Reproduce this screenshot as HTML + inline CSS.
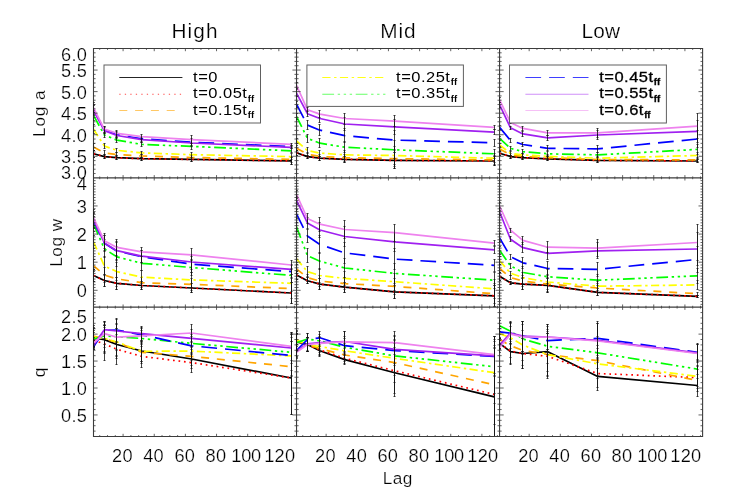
<!DOCTYPE html>
<html><head><meta charset="utf-8"><title>Lag plots</title>
<style>html,body{margin:0;padding:0;background:#fff;}svg{display:block;will-change:transform;}body{font-family:"Liberation Sans",sans-serif;}</style></head>
<body>
<svg width="747" height="499" viewBox="0 0 747 499">
<rect x="0" y="0" width="747" height="499" fill="#ffffff"/>
<defs>
<clipPath id="c00"><rect x="93.50" y="48.50" width="203.03" height="129.33"/></clipPath>
<clipPath id="c01"><rect x="296.53" y="48.50" width="203.03" height="129.33"/></clipPath>
<clipPath id="c02"><rect x="499.57" y="48.50" width="203.03" height="129.33"/></clipPath>
<clipPath id="c10"><rect x="93.50" y="177.83" width="203.03" height="129.33"/></clipPath>
<clipPath id="c11"><rect x="296.53" y="177.83" width="203.03" height="129.33"/></clipPath>
<clipPath id="c12"><rect x="499.57" y="177.83" width="203.03" height="129.33"/></clipPath>
<clipPath id="c20"><rect x="93.50" y="307.17" width="203.03" height="129.33"/></clipPath>
<clipPath id="c21"><rect x="296.53" y="307.17" width="203.03" height="129.33"/></clipPath>
<clipPath id="c22"><rect x="499.57" y="307.17" width="203.03" height="129.33"/></clipPath>
</defs>
<g clip-path="url(#c00)" fill="none">
<polyline points="93.5,153.7 104.4,156.6 116.9,157.7 141.8,158.7 191.6,159.4 291.3,160.9" stroke="#000000" stroke-width="1.7" stroke-linejoin="round"/>
<path d="M93.5 150.5V157.5M92.5 150.5h2M92.5 157.5h2M104.5 154.5V158.5M103.5 154.5h2M103.5 158.5h2M116.5 155.5V159.5M115.5 155.5h2M115.5 159.5h2M141.5 157.5V160.5M140.5 157.5h2M140.5 160.5h2M191.5 157.5V161.5M190.5 157.5h2M190.5 161.5h2M291.5 157.5V164.5M290.5 157.5h2M290.5 164.5h2" stroke="#111" stroke-width="0.8"/>
<polyline points="93.5,153.7 104.4,156.6 116.9,157.7 141.8,158.7 191.6,159.4 291.3,160.9" stroke="#ff0000" stroke-width="1.7" stroke-linejoin="round" stroke-dasharray="1.7 3.8"/>
<path d="M93.5 150.5V157.5M92.5 150.5h2M92.5 157.5h2M104.5 154.5V158.5M103.5 154.5h2M103.5 158.5h2M116.5 155.5V159.5M115.5 155.5h2M115.5 159.5h2M141.5 157.5V160.5M140.5 157.5h2M140.5 160.5h2M191.5 157.5V161.5M190.5 157.5h2M190.5 161.5h2M291.5 157.5V164.5M290.5 157.5h2M290.5 164.5h2" stroke="#111" stroke-width="0.8"/>
<polyline points="93.5,146.9 104.4,152.9 116.9,154.6 141.8,156.0 191.6,157.5 291.3,159.4" stroke="#ffa500" stroke-width="1.7" stroke-linejoin="round" stroke-dasharray="8 7.8"/>
<path d="M93.5 143.5V150.5M92.5 143.5h2M92.5 150.5h2M104.5 150.5V155.5M103.5 150.5h2M103.5 155.5h2M116.5 152.5V156.5M115.5 152.5h2M115.5 156.5h2M141.5 154.5V157.5M140.5 154.5h2M140.5 157.5h2M191.5 155.5V159.5M190.5 155.5h2M190.5 159.5h2M291.5 156.5V162.5M290.5 156.5h2M290.5 162.5h2" stroke="#111" stroke-width="0.8"/>
<polyline points="93.5,129.1 104.4,146.1 116.9,150.3 141.8,152.9 191.6,154.7 291.3,156.6" stroke="#ffff00" stroke-width="1.7" stroke-linejoin="round" stroke-dasharray="8.2 3.6 2.4 3.4"/>
<path d="M93.5 124.5V133.5M92.5 124.5h2M92.5 133.5h2M104.5 143.5V148.5M103.5 143.5h2M103.5 148.5h2M116.5 148.5V152.5M115.5 148.5h2M115.5 152.5h2M141.5 151.5V154.5M140.5 151.5h2M140.5 154.5h2M191.5 152.5V157.5M190.5 152.5h2M190.5 157.5h2M291.5 153.5V159.5M290.5 153.5h2M290.5 159.5h2" stroke="#111" stroke-width="0.8"/>
<polyline points="93.5,115.4 104.4,135.0 116.9,140.1 141.8,144.4 191.6,146.4 291.3,150.8" stroke="#00ff00" stroke-width="1.7" stroke-linejoin="round" stroke-dasharray="11.8 3.6 2.4 3.6 2.4 3.6 2.4 3.6"/>
<path d="M93.5 110.5V120.5M92.5 110.5h2M92.5 120.5h2M104.5 132.5V137.5M103.5 132.5h2M103.5 137.5h2M116.5 137.5V142.5M115.5 137.5h2M115.5 142.5h2M141.5 142.5V146.5M140.5 142.5h2M140.5 146.5h2M191.5 143.5V149.5M190.5 143.5h2M190.5 149.5h2M291.5 148.5V152.5M290.5 148.5h2M290.5 152.5h2" stroke="#111" stroke-width="0.8"/>
<polyline points="93.5,109.6 104.4,130.0 116.9,134.7 141.8,138.8 191.6,142.2 291.3,146.6" stroke="#0000ff" stroke-width="1.7" stroke-linejoin="round" stroke-dasharray="15.7 8"/>
<path d="M93.5 104.5V114.5M92.5 104.5h2M92.5 114.5h2M104.5 126.5V133.5M103.5 126.5h2M103.5 133.5h2M116.5 131.5V137.5M115.5 131.5h2M115.5 137.5h2M141.5 136.5V141.5M140.5 136.5h2M140.5 141.5h2M191.5 138.5V145.5M190.5 138.5h2M190.5 145.5h2M291.5 145.5V147.5M290.5 145.5h2M290.5 147.5h2" stroke="#111" stroke-width="0.8"/>
<polyline points="93.5,110.3 104.4,130.8 116.9,135.5 141.8,139.6 191.6,143.0 291.3,147.4" stroke="#a020f0" stroke-width="1.7" stroke-linejoin="round"/>
<path d="M93.5 105.5V115.5M92.5 105.5h2M92.5 115.5h2M104.5 127.5V133.5M103.5 127.5h2M103.5 133.5h2M116.5 132.5V138.5M115.5 132.5h2M115.5 138.5h2M141.5 137.5V142.5M140.5 137.5h2M140.5 142.5h2M191.5 139.5V146.5M190.5 139.5h2M190.5 146.5h2M291.5 146.5V148.5M290.5 146.5h2M290.5 148.5h2" stroke="#111" stroke-width="0.8"/>
<polyline points="93.5,107.8 104.4,129.1 116.9,133.3 141.8,136.7 191.6,139.6 291.3,144.4" stroke="#ee82ee" stroke-width="1.7" stroke-linejoin="round"/>
<path d="M93.5 102.5V112.5M92.5 102.5h2M92.5 112.5h2M104.5 126.5V132.5M103.5 126.5h2M103.5 132.5h2M116.5 130.5V136.5M115.5 130.5h2M115.5 136.5h2M141.5 134.5V139.5M140.5 134.5h2M140.5 139.5h2M191.5 135.5V143.5M190.5 135.5h2M190.5 143.5h2M291.5 143.5V145.5M290.5 143.5h2M290.5 145.5h2" stroke="#111" stroke-width="0.8"/>
</g>
<g clip-path="url(#c01)" fill="none">
<polyline points="296.5,152.7 307.4,156.6 319.9,158.2 344.8,159.3 394.7,160.4 494.3,161.0" stroke="#000000" stroke-width="1.7" stroke-linejoin="round"/>
<path d="M296.5 150.5V155.5M295.5 150.5h2M295.5 155.5h2M307.5 155.5V158.5M306.5 155.5h2M306.5 158.5h2M319.5 156.5V160.5M318.5 156.5h2M318.5 160.5h2M344.5 156.5V162.5M343.5 156.5h2M343.5 162.5h2M394.5 152.5V168.5M393.5 152.5h2M393.5 168.5h2M494.5 156.5V165.5M493.5 156.5h2M493.5 165.5h2" stroke="#111" stroke-width="0.8"/>
<polyline points="296.5,152.7 307.4,156.6 319.9,158.2 344.8,159.3 394.7,160.4 494.3,161.0" stroke="#ff0000" stroke-width="1.7" stroke-linejoin="round" stroke-dasharray="1.7 3.8"/>
<path d="M296.5 150.5V155.5M295.5 150.5h2M295.5 155.5h2M307.5 155.5V158.5M306.5 155.5h2M306.5 158.5h2M319.5 156.5V160.5M318.5 156.5h2M318.5 160.5h2M344.5 156.5V162.5M343.5 156.5h2M343.5 162.5h2M394.5 152.5V168.5M393.5 152.5h2M393.5 168.5h2M494.5 156.5V165.5M493.5 156.5h2M493.5 165.5h2" stroke="#111" stroke-width="0.8"/>
<polyline points="296.5,148.3 307.4,154.2 319.9,156.4 344.8,157.7 394.7,158.6 494.3,159.9" stroke="#ffa500" stroke-width="1.7" stroke-linejoin="round" stroke-dasharray="8 7.8"/>
<path d="M296.5 145.5V150.5M295.5 145.5h2M295.5 150.5h2M307.5 152.5V156.5M306.5 152.5h2M306.5 156.5h2M319.5 154.5V158.5M318.5 154.5h2M318.5 158.5h2M344.5 154.5V161.5M343.5 154.5h2M343.5 161.5h2M394.5 150.5V166.5M393.5 150.5h2M393.5 166.5h2M494.5 155.5V164.5M493.5 155.5h2M493.5 164.5h2" stroke="#111" stroke-width="0.8"/>
<polyline points="296.5,141.0 307.4,150.5 319.9,153.1 344.8,154.9 394.7,155.5 494.3,158.2" stroke="#ffff00" stroke-width="1.7" stroke-linejoin="round" stroke-dasharray="8.2 3.6 2.4 3.4"/>
<path d="M296.5 138.5V143.5M295.5 138.5h2M295.5 143.5h2M307.5 147.5V153.5M306.5 147.5h2M306.5 153.5h2M319.5 150.5V156.5M318.5 150.5h2M318.5 156.5h2M344.5 150.5V159.5M343.5 150.5h2M343.5 159.5h2M394.5 146.5V164.5M393.5 146.5h2M393.5 164.5h2M494.5 153.5V162.5M493.5 153.5h2M493.5 162.5h2" stroke="#111" stroke-width="0.8"/>
<polyline points="296.5,116.3 307.4,138.3 319.9,143.2 344.8,147.2 394.7,149.8 494.3,153.8" stroke="#00ff00" stroke-width="1.7" stroke-linejoin="round" stroke-dasharray="11.8 3.6 2.4 3.6 2.4 3.6 2.4 3.6"/>
<path d="M296.5 113.5V119.5M295.5 113.5h2M295.5 119.5h2M307.5 134.5V142.5M306.5 134.5h2M306.5 142.5h2M319.5 138.5V147.5M318.5 138.5h2M318.5 147.5h2M344.5 141.5V152.5M343.5 141.5h2M343.5 152.5h2M394.5 140.5V158.5M393.5 140.5h2M393.5 158.5h2M494.5 149.5V158.5M493.5 149.5h2M493.5 158.5h2" stroke="#111" stroke-width="0.8"/>
<polyline points="296.5,104.2 307.4,125.1 319.9,130.2 344.8,135.7 394.7,140.1 494.3,142.8" stroke="#0000ff" stroke-width="1.7" stroke-linejoin="round" stroke-dasharray="15.7 8"/>
<path d="M296.5 101.5V107.5M295.5 101.5h2M295.5 107.5h2M307.5 120.5V129.5M306.5 120.5h2M306.5 129.5h2M319.5 124.5V135.5M318.5 124.5h2M318.5 135.5h2M344.5 128.5V142.5M343.5 128.5h2M343.5 142.5h2M394.5 130.5V149.5M393.5 130.5h2M393.5 149.5h2M494.5 139.5V146.5M493.5 139.5h2M493.5 146.5h2" stroke="#111" stroke-width="0.8"/>
<polyline points="296.5,93.1 307.4,113.7 319.9,118.5 344.8,124.0 394.7,126.9 494.3,132.2" stroke="#a020f0" stroke-width="1.7" stroke-linejoin="round"/>
<path d="M296.5 89.5V96.5M295.5 89.5h2M295.5 96.5h2M307.5 110.5V116.5M306.5 110.5h2M306.5 116.5h2M319.5 114.5V122.5M318.5 114.5h2M318.5 122.5h2M344.5 117.5V130.5M343.5 117.5h2M343.5 130.5h2M394.5 119.5V134.5M393.5 119.5h2M393.5 134.5h2M494.5 129.5V134.5M493.5 129.5h2M493.5 134.5h2" stroke="#111" stroke-width="0.8"/>
<polyline points="296.5,85.4 307.4,109.7 319.9,114.1 344.8,118.5 394.7,121.1 494.3,127.3" stroke="#ee82ee" stroke-width="1.7" stroke-linejoin="round"/>
<path d="M296.5 82.5V88.5M295.5 82.5h2M295.5 88.5h2M307.5 107.5V111.5M306.5 107.5h2M306.5 111.5h2M319.5 110.5V117.5M318.5 110.5h2M318.5 117.5h2M344.5 113.5V124.5M343.5 113.5h2M343.5 124.5h2M394.5 115.5V126.5M393.5 115.5h2M393.5 126.5h2M494.5 125.5V129.5M493.5 125.5h2M493.5 129.5h2" stroke="#111" stroke-width="0.8"/>
</g>
<g clip-path="url(#c02)" fill="none">
<polyline points="499.6,153.3 510.5,156.6 522.9,157.7 547.8,158.8 597.7,160.4 697.4,161.0" stroke="#000000" stroke-width="1.7" stroke-linejoin="round"/>
<path d="M499.5 151.5V155.5M498.5 151.5h2M498.5 155.5h2M510.5 155.5V158.5M509.5 155.5h2M509.5 158.5h2M522.5 156.5V159.5M521.5 156.5h2M521.5 159.5h2M547.5 156.5V160.5M546.5 156.5h2M546.5 160.5h2M597.5 158.5V162.5M596.5 158.5h2M596.5 162.5h2M697.5 159.5V162.5M696.5 159.5h2M696.5 162.5h2" stroke="#111" stroke-width="0.8"/>
<polyline points="499.6,153.3 510.5,156.6 522.9,157.7 547.8,158.8 597.7,160.4 697.4,161.0" stroke="#ff0000" stroke-width="1.7" stroke-linejoin="round" stroke-dasharray="1.7 3.8"/>
<path d="M499.5 151.5V155.5M498.5 151.5h2M498.5 155.5h2M510.5 155.5V158.5M509.5 155.5h2M509.5 158.5h2M522.5 156.5V159.5M521.5 156.5h2M521.5 159.5h2M547.5 156.5V160.5M546.5 156.5h2M546.5 160.5h2M597.5 158.5V162.5M596.5 158.5h2M596.5 162.5h2M697.5 159.5V162.5M696.5 159.5h2M696.5 162.5h2" stroke="#111" stroke-width="0.8"/>
<polyline points="499.6,148.9 510.5,154.9 522.9,156.4 547.8,157.7 597.7,159.5 697.4,159.9" stroke="#ffa500" stroke-width="1.7" stroke-linejoin="round" stroke-dasharray="8 7.8"/>
<path d="M499.5 147.5V150.5M498.5 147.5h2M498.5 150.5h2M510.5 153.5V156.5M509.5 153.5h2M509.5 156.5h2M522.5 154.5V158.5M521.5 154.5h2M521.5 158.5h2M547.5 155.5V159.5M546.5 155.5h2M546.5 159.5h2M597.5 157.5V161.5M596.5 157.5h2M596.5 161.5h2M697.5 157.5V161.5M696.5 157.5h2M696.5 161.5h2" stroke="#111" stroke-width="0.8"/>
<polyline points="499.6,145.0 510.5,153.3 522.9,154.9 547.8,156.4 597.7,158.2 697.4,155.5" stroke="#ffff00" stroke-width="1.7" stroke-linejoin="round" stroke-dasharray="8.2 3.6 2.4 3.4"/>
<path d="M499.5 143.5V146.5M498.5 143.5h2M498.5 146.5h2M510.5 151.5V155.5M509.5 151.5h2M509.5 155.5h2M522.5 153.5V156.5M521.5 153.5h2M521.5 156.5h2M547.5 154.5V158.5M546.5 154.5h2M546.5 158.5h2M597.5 156.5V160.5M596.5 156.5h2M596.5 160.5h2M697.5 152.5V158.5M696.5 152.5h2M696.5 158.5h2" stroke="#111" stroke-width="0.8"/>
<polyline points="499.6,138.3 510.5,148.3 522.9,151.6 547.8,153.8 597.7,154.9 697.4,149.4" stroke="#00ff00" stroke-width="1.7" stroke-linejoin="round" stroke-dasharray="11.8 3.6 2.4 3.6 2.4 3.6 2.4 3.6"/>
<path d="M499.5 136.5V140.5M498.5 136.5h2M498.5 140.5h2M510.5 146.5V150.5M509.5 146.5h2M509.5 150.5h2M522.5 149.5V153.5M521.5 149.5h2M521.5 153.5h2M547.5 151.5V156.5M546.5 151.5h2M546.5 156.5h2M597.5 152.5V157.5M596.5 152.5h2M596.5 157.5h2M697.5 144.5V154.5M696.5 144.5h2M696.5 154.5h2" stroke="#111" stroke-width="0.8"/>
<polyline points="499.6,127.3 510.5,140.5 522.9,144.5 547.8,148.3 597.7,148.9 697.4,139.0" stroke="#0000ff" stroke-width="1.7" stroke-linejoin="round" stroke-dasharray="15.7 8"/>
<path d="M499.5 125.5V129.5M498.5 125.5h2M498.5 129.5h2M510.5 138.5V142.5M509.5 138.5h2M509.5 142.5h2M522.5 142.5V146.5M521.5 142.5h2M521.5 146.5h2M547.5 145.5V150.5M546.5 145.5h2M546.5 150.5h2M597.5 145.5V152.5M596.5 145.5h2M596.5 152.5h2M697.5 130.5V147.5M696.5 130.5h2M696.5 147.5h2" stroke="#111" stroke-width="0.8"/>
<polyline points="499.6,104.8 510.5,127.8 522.9,133.9 547.8,137.9 597.7,135.0 697.4,131.3" stroke="#a020f0" stroke-width="1.7" stroke-linejoin="round"/>
<path d="M499.5 102.5V107.5M498.5 102.5h2M498.5 107.5h2M510.5 126.5V129.5M509.5 126.5h2M509.5 129.5h2M522.5 131.5V136.5M521.5 131.5h2M521.5 136.5h2M547.5 135.5V140.5M546.5 135.5h2M546.5 140.5h2M597.5 130.5V139.5M596.5 130.5h2M596.5 139.5h2M697.5 120.5V142.5M696.5 120.5h2M696.5 142.5h2" stroke="#111" stroke-width="0.8"/>
<polyline points="499.6,99.8 510.5,122.5 522.9,128.4 547.8,132.8 597.7,132.8 697.4,126.2" stroke="#ee82ee" stroke-width="1.7" stroke-linejoin="round"/>
<path d="M499.5 97.5V102.5M498.5 97.5h2M498.5 102.5h2M510.5 121.5V123.5M509.5 121.5h2M509.5 123.5h2M522.5 126.5V130.5M521.5 126.5h2M521.5 130.5h2M547.5 130.5V135.5M546.5 130.5h2M546.5 135.5h2M597.5 128.5V137.5M596.5 128.5h2M596.5 137.5h2M697.5 113.5V138.5M696.5 113.5h2M696.5 138.5h2" stroke="#111" stroke-width="0.8"/>
</g>
<g clip-path="url(#c10)" fill="none">
<polyline points="93.5,275.4 104.4,280.5 116.9,283.3 141.8,285.5 191.6,288.0 291.3,293.0" stroke="#000000" stroke-width="1.7" stroke-linejoin="round"/>
<path d="M93.5 269.5V281.5M92.5 269.5h2M92.5 281.5h2M104.5 274.5V286.5M103.5 274.5h2M103.5 286.5h2M116.5 277.5V289.5M115.5 277.5h2M115.5 289.5h2M141.5 281.5V289.5M140.5 281.5h2M140.5 289.5h2M191.5 283.5V292.5M190.5 283.5h2M190.5 292.5h2M291.5 282.5V303.5M290.5 282.5h2M290.5 303.5h2" stroke="#111" stroke-width="0.8"/>
<polyline points="93.5,275.4 104.4,280.5 116.9,283.3 141.8,285.5 191.6,288.0 291.3,293.0" stroke="#ff0000" stroke-width="1.7" stroke-linejoin="round" stroke-dasharray="1.7 3.8"/>
<path d="M93.5 269.5V281.5M92.5 269.5h2M92.5 281.5h2M104.5 274.5V286.5M103.5 274.5h2M103.5 286.5h2M116.5 277.5V289.5M115.5 277.5h2M115.5 289.5h2M141.5 281.5V289.5M140.5 281.5h2M140.5 289.5h2M191.5 283.5V292.5M190.5 283.5h2M190.5 292.5h2M291.5 282.5V303.5M290.5 282.5h2M290.5 303.5h2" stroke="#111" stroke-width="0.8"/>
<polyline points="93.5,265.7 104.4,275.0 116.9,278.9 141.8,282.7 191.6,284.3 291.3,288.6" stroke="#ffa500" stroke-width="1.7" stroke-linejoin="round" stroke-dasharray="8 7.8"/>
<path d="M93.5 259.5V271.5M92.5 259.5h2M92.5 271.5h2M104.5 267.5V282.5M103.5 267.5h2M103.5 282.5h2M116.5 271.5V286.5M115.5 271.5h2M115.5 286.5h2M141.5 277.5V287.5M140.5 277.5h2M140.5 287.5h2M191.5 278.5V290.5M190.5 278.5h2M190.5 290.5h2M291.5 278.5V298.5M290.5 278.5h2M290.5 298.5h2" stroke="#111" stroke-width="0.8"/>
<polyline points="93.5,241.9 104.4,266.1 116.9,271.6 141.8,277.2 191.6,279.9 291.3,283.3" stroke="#ffff00" stroke-width="1.7" stroke-linejoin="round" stroke-dasharray="8.2 3.6 2.4 3.4"/>
<path d="M93.5 235.5V248.5M92.5 235.5h2M92.5 248.5h2M104.5 256.5V275.5M103.5 256.5h2M103.5 275.5h2M116.5 262.5V280.5M115.5 262.5h2M115.5 280.5h2M141.5 270.5V283.5M140.5 270.5h2M140.5 283.5h2M191.5 272.5V287.5M190.5 272.5h2M190.5 287.5h2M291.5 274.5V291.5M290.5 274.5h2M290.5 291.5h2" stroke="#111" stroke-width="0.8"/>
<polyline points="93.5,223.8 104.4,248.9 116.9,256.9 141.8,263.3 191.6,267.5 291.3,275.4" stroke="#00ff00" stroke-width="1.7" stroke-linejoin="round" stroke-dasharray="11.8 3.6 2.4 3.6 2.4 3.6 2.4 3.6"/>
<path d="M93.5 216.5V231.5M92.5 216.5h2M92.5 231.5h2M104.5 239.5V257.5M103.5 239.5h2M103.5 257.5h2M116.5 246.5V266.5M115.5 246.5h2M115.5 266.5h2M141.5 256.5V270.5M140.5 256.5h2M140.5 270.5h2M191.5 259.5V275.5M190.5 259.5h2M190.5 275.5h2M291.5 268.5V282.5M290.5 268.5h2M290.5 282.5h2" stroke="#111" stroke-width="0.8"/>
<polyline points="93.5,220.9 104.4,243.4 116.9,251.1 141.8,256.7 191.6,264.2 291.3,271.6" stroke="#0000ff" stroke-width="1.7" stroke-linejoin="round" stroke-dasharray="15.7 8"/>
<path d="M93.5 213.5V228.5M92.5 213.5h2M92.5 228.5h2M104.5 235.5V251.5M103.5 235.5h2M103.5 251.5h2M116.5 242.5V260.5M115.5 242.5h2M115.5 260.5h2M141.5 250.5V262.5M140.5 250.5h2M140.5 262.5h2M191.5 256.5V272.5M190.5 256.5h2M190.5 272.5h2M291.5 265.5V277.5M290.5 265.5h2M290.5 277.5h2" stroke="#111" stroke-width="0.8"/>
<polyline points="93.5,219.8 104.4,243.0 116.9,250.7 141.8,256.2 191.6,262.0 291.3,269.4" stroke="#a020f0" stroke-width="1.7" stroke-linejoin="round"/>
<path d="M93.5 212.5V227.5M92.5 212.5h2M92.5 227.5h2M104.5 235.5V250.5M103.5 235.5h2M103.5 250.5h2M116.5 241.5V259.5M115.5 241.5h2M115.5 259.5h2M141.5 250.5V262.5M140.5 250.5h2M140.5 262.5h2M191.5 254.5V269.5M190.5 254.5h2M190.5 269.5h2M291.5 264.5V274.5M290.5 264.5h2M290.5 274.5h2" stroke="#111" stroke-width="0.8"/>
<polyline points="93.5,217.6 104.4,240.8 116.9,247.4 141.8,251.8 191.6,254.9 291.3,265.0" stroke="#ee82ee" stroke-width="1.7" stroke-linejoin="round"/>
<path d="M93.5 209.5V225.5M92.5 209.5h2M92.5 225.5h2M104.5 233.5V248.5M103.5 233.5h2M103.5 248.5h2M116.5 239.5V255.5M115.5 239.5h2M115.5 255.5h2M141.5 247.5V256.5M140.5 247.5h2M140.5 256.5h2M191.5 248.5V260.5M190.5 248.5h2M190.5 260.5h2M291.5 260.5V269.5M290.5 260.5h2M290.5 269.5h2" stroke="#111" stroke-width="0.8"/>
</g>
<g clip-path="url(#c11)" fill="none">
<polyline points="296.5,275.0 307.4,280.7 319.9,284.1 344.8,287.2 394.7,291.9 494.3,295.8" stroke="#000000" stroke-width="1.7" stroke-linejoin="round"/>
<path d="M296.5 271.5V279.5M295.5 271.5h2M295.5 279.5h2M307.5 277.5V283.5M306.5 277.5h2M306.5 283.5h2M319.5 278.5V289.5M318.5 278.5h2M318.5 289.5h2M344.5 282.5V292.5M343.5 282.5h2M343.5 292.5h2M394.5 285.5V298.5M393.5 285.5h2M393.5 298.5h2M494.5 285.5V306.5M493.5 285.5h2M493.5 306.5h2" stroke="#111" stroke-width="0.8"/>
<polyline points="296.5,275.0 307.4,280.7 319.9,284.1 344.8,287.2 394.7,291.9 494.3,295.8" stroke="#ff0000" stroke-width="1.7" stroke-linejoin="round" stroke-dasharray="1.7 3.8"/>
<path d="M296.5 271.5V279.5M295.5 271.5h2M295.5 279.5h2M307.5 277.5V283.5M306.5 277.5h2M306.5 283.5h2M319.5 278.5V289.5M318.5 278.5h2M318.5 289.5h2M344.5 282.5V292.5M343.5 282.5h2M343.5 292.5h2M394.5 285.5V298.5M393.5 285.5h2M393.5 298.5h2M494.5 285.5V306.5M493.5 285.5h2M493.5 306.5h2" stroke="#111" stroke-width="0.8"/>
<polyline points="296.5,269.0 307.4,277.6 319.9,281.0 344.8,283.6 394.7,286.4 494.3,293.7" stroke="#ffa500" stroke-width="1.7" stroke-linejoin="round" stroke-dasharray="8 7.8"/>
<path d="M296.5 264.5V273.5M295.5 264.5h2M295.5 273.5h2M307.5 274.5V281.5M306.5 274.5h2M306.5 281.5h2M319.5 275.5V286.5M318.5 275.5h2M318.5 286.5h2M344.5 277.5V289.5M343.5 277.5h2M343.5 289.5h2M394.5 278.5V294.5M393.5 278.5h2M393.5 294.5h2M494.5 283.5V303.5M493.5 283.5h2M493.5 303.5h2" stroke="#111" stroke-width="0.8"/>
<polyline points="296.5,258.9 307.4,271.6 319.9,275.5 344.8,278.4 394.7,281.7 494.3,288.8" stroke="#ffff00" stroke-width="1.7" stroke-linejoin="round" stroke-dasharray="8.2 3.6 2.4 3.4"/>
<path d="M296.5 254.5V262.5M295.5 254.5h2M295.5 262.5h2M307.5 266.5V276.5M306.5 266.5h2M306.5 276.5h2M319.5 268.5V282.5M318.5 268.5h2M318.5 282.5h2M344.5 271.5V285.5M343.5 271.5h2M343.5 285.5h2M394.5 273.5V290.5M393.5 273.5h2M393.5 290.5h2M494.5 279.5V298.5M493.5 279.5h2M493.5 298.5h2" stroke="#111" stroke-width="0.8"/>
<polyline points="296.5,226.9 307.4,255.5 319.9,261.2 344.8,268.0 394.7,273.4 494.3,280.2" stroke="#00ff00" stroke-width="1.7" stroke-linejoin="round" stroke-dasharray="11.8 3.6 2.4 3.6 2.4 3.6 2.4 3.6"/>
<path d="M296.5 222.5V231.5M295.5 222.5h2M295.5 231.5h2M307.5 248.5V262.5M306.5 248.5h2M306.5 262.5h2M319.5 252.5V269.5M318.5 252.5h2M318.5 269.5h2M344.5 258.5V277.5M343.5 258.5h2M343.5 277.5h2M394.5 263.5V283.5M393.5 263.5h2M393.5 283.5h2M494.5 272.5V288.5M493.5 272.5h2M493.5 288.5h2" stroke="#111" stroke-width="0.8"/>
<polyline points="296.5,213.8 307.4,236.0 319.9,244.5 344.8,252.9 394.7,259.1 494.3,265.4" stroke="#0000ff" stroke-width="1.7" stroke-linejoin="round" stroke-dasharray="15.7 8"/>
<path d="M296.5 209.5V218.5M295.5 209.5h2M295.5 218.5h2M307.5 229.5V242.5M306.5 229.5h2M306.5 242.5h2M319.5 235.5V253.5M318.5 235.5h2M318.5 253.5h2M344.5 242.5V263.5M343.5 242.5h2M343.5 263.5h2M394.5 248.5V269.5M393.5 248.5h2M393.5 269.5h2M494.5 259.5V271.5M493.5 259.5h2M493.5 271.5h2" stroke="#111" stroke-width="0.8"/>
<polyline points="296.5,200.3 307.4,222.9 319.9,230.0 344.8,236.5 394.7,241.8 494.3,249.8" stroke="#a020f0" stroke-width="1.7" stroke-linejoin="round"/>
<path d="M296.5 196.5V204.5M295.5 196.5h2M295.5 204.5h2M307.5 217.5V228.5M306.5 217.5h2M306.5 228.5h2M319.5 222.5V237.5M318.5 222.5h2M318.5 237.5h2M344.5 226.5V246.5M343.5 226.5h2M343.5 246.5h2M394.5 232.5V251.5M393.5 232.5h2M393.5 251.5h2M494.5 246.5V253.5M493.5 246.5h2M493.5 253.5h2" stroke="#111" stroke-width="0.8"/>
<polyline points="296.5,194.3 307.4,218.5 319.9,224.2 344.8,229.5 394.7,232.7 494.3,243.2" stroke="#ee82ee" stroke-width="1.7" stroke-linejoin="round"/>
<path d="M296.5 190.5V198.5M295.5 190.5h2M295.5 198.5h2M307.5 213.5V223.5M306.5 213.5h2M306.5 223.5h2M319.5 217.5V231.5M318.5 217.5h2M318.5 231.5h2M344.5 220.5V238.5M343.5 220.5h2M343.5 238.5h2M394.5 224.5V241.5M393.5 224.5h2M393.5 241.5h2M494.5 240.5V245.5M493.5 240.5h2M493.5 245.5h2" stroke="#111" stroke-width="0.8"/>
</g>
<g clip-path="url(#c12)" fill="none">
<polyline points="499.6,276.3 510.5,282.8 522.9,284.1 547.8,285.4 597.7,292.4 697.4,296.3" stroke="#000000" stroke-width="1.7" stroke-linejoin="round"/>
<path d="M499.5 272.5V280.5M498.5 272.5h2M498.5 280.5h2M510.5 281.5V284.5M509.5 281.5h2M509.5 284.5h2M522.5 278.5V289.5M521.5 278.5h2M521.5 289.5h2M547.5 278.5V292.5M546.5 278.5h2M546.5 292.5h2M597.5 288.5V295.5M596.5 288.5h2M596.5 295.5h2M697.5 295.5V297.5M696.5 295.5h2M696.5 297.5h2" stroke="#111" stroke-width="0.8"/>
<polyline points="499.6,276.3 510.5,282.8 522.9,284.1 547.8,285.4 597.7,292.4 697.4,296.3" stroke="#ff0000" stroke-width="1.7" stroke-linejoin="round" stroke-dasharray="1.7 3.8"/>
<path d="M499.5 272.5V280.5M498.5 272.5h2M498.5 280.5h2M510.5 281.5V284.5M509.5 281.5h2M509.5 284.5h2M522.5 278.5V289.5M521.5 278.5h2M521.5 289.5h2M547.5 278.5V292.5M546.5 278.5h2M546.5 292.5h2M597.5 288.5V295.5M596.5 288.5h2M596.5 295.5h2M697.5 295.5V297.5M696.5 295.5h2M696.5 297.5h2" stroke="#111" stroke-width="0.8"/>
<polyline points="499.6,268.5 510.5,277.6 522.9,281.0 547.8,284.1 597.7,288.0 697.4,293.7" stroke="#ffa500" stroke-width="1.7" stroke-linejoin="round" stroke-dasharray="8 7.8"/>
<path d="M499.5 264.5V272.5M498.5 264.5h2M498.5 272.5h2M510.5 275.5V279.5M509.5 275.5h2M509.5 279.5h2M522.5 275.5V286.5M521.5 275.5h2M521.5 286.5h2M547.5 277.5V291.5M546.5 277.5h2M546.5 291.5h2M597.5 283.5V292.5M596.5 283.5h2M596.5 292.5h2M697.5 292.5V295.5M696.5 292.5h2M696.5 295.5h2" stroke="#111" stroke-width="0.8"/>
<polyline points="499.6,260.7 510.5,273.2 522.9,277.6 547.8,282.0 597.7,286.2 697.4,284.9" stroke="#ffff00" stroke-width="1.7" stroke-linejoin="round" stroke-dasharray="8.2 3.6 2.4 3.4"/>
<path d="M499.5 256.5V264.5M498.5 256.5h2M498.5 264.5h2M510.5 271.5V275.5M509.5 271.5h2M509.5 275.5h2M522.5 272.5V283.5M521.5 272.5h2M521.5 283.5h2M547.5 274.5V289.5M546.5 274.5h2M546.5 289.5h2M597.5 281.5V290.5M596.5 281.5h2M596.5 290.5h2M697.5 280.5V289.5M696.5 280.5h2M696.5 289.5h2" stroke="#111" stroke-width="0.8"/>
<polyline points="499.6,250.3 510.5,265.9 522.9,272.4 547.8,276.8 597.7,280.2 697.4,275.8" stroke="#00ff00" stroke-width="1.7" stroke-linejoin="round" stroke-dasharray="11.8 3.6 2.4 3.6 2.4 3.6 2.4 3.6"/>
<path d="M499.5 246.5V254.5M498.5 246.5h2M498.5 254.5h2M510.5 263.5V268.5M509.5 263.5h2M509.5 268.5h2M522.5 266.5V277.5M521.5 266.5h2M521.5 277.5h2M547.5 269.5V283.5M546.5 269.5h2M546.5 283.5h2M597.5 274.5V285.5M596.5 274.5h2M596.5 285.5h2M697.5 268.5V283.5M696.5 268.5h2M696.5 283.5h2" stroke="#111" stroke-width="0.8"/>
<polyline points="499.6,237.8 510.5,256.8 522.9,262.8 547.8,268.5 597.7,269.3 697.4,259.4" stroke="#0000ff" stroke-width="1.7" stroke-linejoin="round" stroke-dasharray="15.7 8"/>
<path d="M499.5 233.5V241.5M498.5 233.5h2M498.5 241.5h2M510.5 254.5V259.5M509.5 254.5h2M509.5 259.5h2M522.5 257.5V268.5M521.5 257.5h2M521.5 268.5h2M547.5 261.5V275.5M546.5 261.5h2M546.5 275.5h2M597.5 262.5V276.5M596.5 262.5h2M596.5 276.5h2M697.5 246.5V272.5M696.5 246.5h2M696.5 272.5h2" stroke="#111" stroke-width="0.8"/>
<polyline points="499.6,211.8 510.5,239.3 522.9,247.7 547.8,253.4 597.7,250.8 697.4,249.0" stroke="#a020f0" stroke-width="1.7" stroke-linejoin="round"/>
<path d="M499.5 207.5V215.5M498.5 207.5h2M498.5 215.5h2M510.5 236.5V241.5M509.5 236.5h2M509.5 241.5h2M522.5 242.5V252.5M521.5 242.5h2M521.5 252.5h2M547.5 247.5V259.5M546.5 247.5h2M546.5 259.5h2M597.5 242.5V258.5M596.5 242.5h2M596.5 258.5h2M697.5 232.5V265.5M696.5 232.5h2M696.5 265.5h2" stroke="#111" stroke-width="0.8"/>
<polyline points="499.6,206.0 510.5,230.2 522.9,240.4 547.8,247.2 597.7,248.2 697.4,242.5" stroke="#ee82ee" stroke-width="1.7" stroke-linejoin="round"/>
<path d="M499.5 202.5V210.5M498.5 202.5h2M498.5 210.5h2M510.5 228.5V232.5M509.5 228.5h2M509.5 232.5h2M522.5 236.5V244.5M521.5 236.5h2M521.5 244.5h2M547.5 241.5V252.5M546.5 241.5h2M546.5 252.5h2M597.5 239.5V256.5M596.5 239.5h2M596.5 256.5h2M697.5 224.5V260.5M696.5 224.5h2M696.5 260.5h2" stroke="#111" stroke-width="0.8"/>
</g>
<g clip-path="url(#c20)" fill="none">
<polyline points="93.5,337.8 104.4,339.6 116.9,344.5 141.8,351.0 191.6,359.0 291.3,378.0" stroke="#000000" stroke-width="1.7" stroke-linejoin="round"/>
<path d="M93.5 328.5V346.5M92.5 328.5h2M92.5 346.5h2M104.5 325.5V353.5M103.5 325.5h2M103.5 353.5h2M116.5 330.5V358.5M115.5 330.5h2M115.5 358.5h2M141.5 340.5V361.5M140.5 340.5h2M140.5 361.5h2M191.5 349.5V368.5M190.5 349.5h2M190.5 368.5h2M291.5 341.5V414.5M290.5 341.5h2M290.5 414.5h2" stroke="#111" stroke-width="0.8"/>
<polyline points="93.5,340.2 104.4,343.9 116.9,349.3 141.8,356.4 191.6,362.6 291.3,378.0" stroke="#ff0000" stroke-width="1.7" stroke-linejoin="round" stroke-dasharray="1.7 3.8"/>
<path d="M93.5 332.5V347.5M92.5 332.5h2M92.5 347.5h2M104.5 327.5V360.5M103.5 327.5h2M103.5 360.5h2M116.5 334.5V364.5M115.5 334.5h2M115.5 364.5h2M141.5 344.5V367.5M140.5 344.5h2M140.5 367.5h2M191.5 353.5V372.5M190.5 353.5h2M190.5 372.5h2M291.5 341.5V414.5M290.5 341.5h2M290.5 414.5h2" stroke="#111" stroke-width="0.8"/>
<polyline points="93.5,336.0 104.4,339.0 116.9,342.4 141.8,352.3 191.6,356.4 291.3,366.7" stroke="#ffa500" stroke-width="1.7" stroke-linejoin="round" stroke-dasharray="8 7.8"/>
<path d="M93.5 325.5V346.5M92.5 325.5h2M92.5 346.5h2M104.5 325.5V352.5M103.5 325.5h2M103.5 352.5h2M116.5 328.5V356.5M115.5 328.5h2M115.5 356.5h2M141.5 341.5V363.5M140.5 341.5h2M140.5 363.5h2M191.5 347.5V365.5M190.5 347.5h2M190.5 365.5h2M291.5 337.5V395.5M290.5 337.5h2M290.5 395.5h2" stroke="#111" stroke-width="0.8"/>
<polyline points="93.5,337.2 104.4,338.4 116.9,342.0 141.8,351.3 191.6,351.1 291.3,355.9" stroke="#ffff00" stroke-width="1.7" stroke-linejoin="round" stroke-dasharray="8.2 3.6 2.4 3.4"/>
<path d="M93.5 327.5V346.5M92.5 327.5h2M92.5 346.5h2M104.5 325.5V351.5M103.5 325.5h2M103.5 351.5h2M116.5 328.5V355.5M115.5 328.5h2M115.5 355.5h2M141.5 340.5V361.5M140.5 340.5h2M140.5 361.5h2M191.5 342.5V360.5M190.5 342.5h2M190.5 360.5h2M291.5 334.5V376.5M290.5 334.5h2M290.5 376.5h2" stroke="#111" stroke-width="0.8"/>
<polyline points="93.5,339.0 104.4,336.0 116.9,336.6 141.8,338.5 191.6,343.4 291.3,352.3" stroke="#00ff00" stroke-width="1.7" stroke-linejoin="round" stroke-dasharray="11.8 3.6 2.4 3.6 2.4 3.6 2.4 3.6"/>
<path d="M93.5 330.5V347.5M92.5 330.5h2M92.5 347.5h2M104.5 324.5V347.5M103.5 324.5h2M103.5 347.5h2M116.5 323.5V349.5M115.5 323.5h2M115.5 349.5h2M141.5 330.5V346.5M140.5 330.5h2M140.5 346.5h2M191.5 334.5V352.5M190.5 334.5h2M190.5 352.5h2M291.5 333.5V370.5M290.5 333.5h2M290.5 370.5h2" stroke="#111" stroke-width="0.8"/>
<polyline points="93.5,346.9 104.4,330.4 116.9,330.0 141.8,334.8 191.6,345.8 291.3,355.4" stroke="#0000ff" stroke-width="1.7" stroke-linejoin="round" stroke-dasharray="15.7 8"/>
<path d="M93.5 343.5V349.5M92.5 343.5h2M92.5 349.5h2M104.5 321.5V339.5M103.5 321.5h2M103.5 339.5h2M116.5 318.5V341.5M115.5 318.5h2M115.5 341.5h2M141.5 327.5V342.5M140.5 327.5h2M140.5 342.5h2M191.5 336.5V354.5M190.5 336.5h2M190.5 354.5h2M291.5 334.5V375.5M290.5 334.5h2M290.5 375.5h2" stroke="#111" stroke-width="0.8"/>
<polyline points="93.5,345.1 104.4,329.7 116.9,331.0 141.8,333.7 191.6,338.3 291.3,348.0" stroke="#a020f0" stroke-width="1.7" stroke-linejoin="round"/>
<path d="M93.5 340.5V349.5M92.5 340.5h2M92.5 349.5h2M104.5 321.5V338.5M103.5 321.5h2M103.5 338.5h2M116.5 319.5V342.5M115.5 319.5h2M115.5 342.5h2M141.5 326.5V341.5M140.5 326.5h2M140.5 341.5h2M191.5 329.5V346.5M190.5 329.5h2M190.5 346.5h2M291.5 332.5V363.5M290.5 332.5h2M290.5 363.5h2" stroke="#111" stroke-width="0.8"/>
<polyline points="93.5,343.3 104.4,333.6 116.9,337.2 141.8,335.8 191.6,333.0 291.3,346.3" stroke="#ee82ee" stroke-width="1.7" stroke-linejoin="round"/>
<path d="M93.5 337.5V348.5M92.5 337.5h2M92.5 348.5h2M104.5 322.5V344.5M103.5 322.5h2M103.5 344.5h2M116.5 324.5V350.5M115.5 324.5h2M115.5 350.5h2M141.5 328.5V343.5M140.5 328.5h2M140.5 343.5h2M191.5 324.5V341.5M190.5 324.5h2M190.5 341.5h2M291.5 332.5V360.5M290.5 332.5h2M290.5 360.5h2" stroke="#111" stroke-width="0.8"/>
</g>
<g clip-path="url(#c21)" fill="none">
<polyline points="296.5,342.0 307.4,344.5 319.9,350.8 344.8,359.6 394.7,372.7 494.3,396.8" stroke="#000000" stroke-width="1.7" stroke-linejoin="round"/>
<path d="M296.5 333.5V350.5M295.5 333.5h2M295.5 350.5h2M307.5 337.5V351.5M306.5 337.5h2M306.5 351.5h2M319.5 345.5V356.5M318.5 345.5h2M318.5 356.5h2M344.5 354.5V364.5M343.5 354.5h2M343.5 364.5h2M394.5 349.5V396.5M393.5 349.5h2M393.5 396.5h2M494.5 348.5V445.5M493.5 348.5h2M493.5 445.5h2" stroke="#111" stroke-width="0.8"/>
<polyline points="296.5,342.0 307.4,345.0 319.9,349.9 344.8,358.3 394.7,370.8 494.3,394.4" stroke="#ff0000" stroke-width="1.7" stroke-linejoin="round" stroke-dasharray="1.7 3.8"/>
<path d="M296.5 333.5V350.5M295.5 333.5h2M295.5 350.5h2M307.5 338.5V351.5M306.5 338.5h2M306.5 351.5h2M319.5 344.5V355.5M318.5 344.5h2M318.5 355.5h2M344.5 353.5V363.5M343.5 353.5h2M343.5 363.5h2M394.5 347.5V393.5M393.5 347.5h2M393.5 393.5h2M494.5 347.5V440.5M493.5 347.5h2M493.5 440.5h2" stroke="#111" stroke-width="0.8"/>
<polyline points="296.5,340.9 307.4,344.5 319.9,348.7 344.8,355.0 394.7,362.6 494.3,384.8" stroke="#ffa500" stroke-width="1.7" stroke-linejoin="round" stroke-dasharray="8 7.8"/>
<path d="M296.5 331.5V350.5M295.5 331.5h2M295.5 350.5h2M307.5 337.5V351.5M306.5 337.5h2M306.5 351.5h2M319.5 342.5V354.5M318.5 342.5h2M318.5 354.5h2M344.5 348.5V361.5M343.5 348.5h2M343.5 361.5h2M394.5 343.5V382.5M393.5 343.5h2M393.5 382.5h2M494.5 345.5V424.5M493.5 345.5h2M493.5 424.5h2" stroke="#111" stroke-width="0.8"/>
<polyline points="296.5,339.6 307.4,344.5 319.9,346.5 344.8,350.8 394.7,358.3 494.3,372.7" stroke="#ffff00" stroke-width="1.7" stroke-linejoin="round" stroke-dasharray="8.2 3.6 2.4 3.4"/>
<path d="M296.5 330.5V349.5M295.5 330.5h2M295.5 349.5h2M307.5 337.5V351.5M306.5 337.5h2M306.5 351.5h2M319.5 340.5V352.5M318.5 340.5h2M318.5 352.5h2M344.5 343.5V358.5M343.5 343.5h2M343.5 358.5h2M394.5 340.5V375.5M393.5 340.5h2M393.5 375.5h2M494.5 341.5V403.5M493.5 341.5h2M493.5 403.5h2" stroke="#111" stroke-width="0.8"/>
<polyline points="296.5,342.7 307.4,339.0 319.9,340.9 344.8,347.2 394.7,355.9 494.3,366.7" stroke="#00ff00" stroke-width="1.7" stroke-linejoin="round" stroke-dasharray="11.8 3.6 2.4 3.6 2.4 3.6 2.4 3.6"/>
<path d="M296.5 334.5V351.5M295.5 334.5h2M295.5 351.5h2M307.5 333.5V345.5M306.5 333.5h2M306.5 345.5h2M319.5 334.5V346.5M318.5 334.5h2M318.5 346.5h2M344.5 338.5V355.5M343.5 338.5h2M343.5 355.5h2M394.5 339.5V372.5M393.5 339.5h2M393.5 372.5h2M494.5 339.5V393.5M493.5 339.5h2M493.5 393.5h2" stroke="#111" stroke-width="0.8"/>
<polyline points="296.5,350.5 307.4,339.6 319.9,337.8 344.8,345.7 394.7,350.6 494.3,356.4" stroke="#0000ff" stroke-width="1.7" stroke-linejoin="round" stroke-dasharray="15.7 8"/>
<path d="M296.5 344.5V356.5M295.5 344.5h2M295.5 356.5h2M307.5 333.5V345.5M306.5 333.5h2M306.5 345.5h2M319.5 331.5V343.5M318.5 331.5h2M318.5 343.5h2M344.5 336.5V354.5M343.5 336.5h2M343.5 354.5h2M394.5 336.5V365.5M393.5 336.5h2M393.5 365.5h2M494.5 336.5V376.5M493.5 336.5h2M493.5 376.5h2" stroke="#111" stroke-width="0.8"/>
<polyline points="296.5,351.0 307.4,343.9 319.9,342.7 344.8,341.5 394.7,349.4 494.3,355.9" stroke="#a020f0" stroke-width="1.7" stroke-linejoin="round"/>
<path d="M296.5 344.5V357.5M295.5 344.5h2M295.5 357.5h2M307.5 337.5V350.5M306.5 337.5h2M306.5 350.5h2M319.5 336.5V348.5M318.5 336.5h2M318.5 348.5h2M344.5 331.5V351.5M343.5 331.5h2M343.5 351.5h2M394.5 335.5V363.5M393.5 335.5h2M393.5 363.5h2M494.5 336.5V375.5M493.5 336.5h2M493.5 375.5h2" stroke="#111" stroke-width="0.8"/>
<polyline points="296.5,352.3 307.4,344.5 319.9,343.3 344.8,341.8 394.7,342.7 494.3,354.7" stroke="#ee82ee" stroke-width="1.7" stroke-linejoin="round"/>
<path d="M296.5 346.5V358.5M295.5 346.5h2M295.5 358.5h2M307.5 337.5V351.5M306.5 337.5h2M306.5 351.5h2M319.5 337.5V349.5M318.5 337.5h2M318.5 349.5h2M344.5 331.5V352.5M343.5 331.5h2M343.5 352.5h2M394.5 331.5V354.5M393.5 331.5h2M393.5 354.5h2M494.5 336.5V373.5M493.5 336.5h2M493.5 373.5h2" stroke="#111" stroke-width="0.8"/>
</g>
<g clip-path="url(#c22)" fill="none">
<polyline points="499.6,343.3 510.5,351.7 522.9,353.5 547.8,351.7 597.7,376.4 697.4,385.5" stroke="#000000" stroke-width="1.7" stroke-linejoin="round"/>
<path d="M499.5 338.5V348.5M498.5 338.5h2M498.5 348.5h2M510.5 339.5V364.5M509.5 339.5h2M509.5 364.5h2M522.5 338.5V368.5M521.5 338.5h2M521.5 368.5h2M547.5 331.5V371.5M546.5 331.5h2M546.5 371.5h2M597.5 362.5V390.5M596.5 362.5h2M596.5 390.5h2M697.5 374.5V396.5M696.5 374.5h2M696.5 396.5h2" stroke="#111" stroke-width="0.8"/>
<polyline points="499.6,343.3 510.5,351.1 522.9,353.5 547.8,356.4 597.7,373.5 697.4,377.6" stroke="#ff0000" stroke-width="1.7" stroke-linejoin="round" stroke-dasharray="1.7 3.8"/>
<path d="M499.5 338.5V348.5M498.5 338.5h2M498.5 348.5h2M510.5 338.5V363.5M509.5 338.5h2M509.5 363.5h2M522.5 338.5V368.5M521.5 338.5h2M521.5 368.5h2M547.5 333.5V378.5M546.5 333.5h2M546.5 378.5h2M597.5 359.5V387.5M596.5 359.5h2M596.5 387.5h2M697.5 366.5V388.5M696.5 366.5h2M696.5 388.5h2" stroke="#111" stroke-width="0.8"/>
<polyline points="499.6,339.6 510.5,345.7 522.9,350.5 547.8,354.5 597.7,360.7 697.4,380.4" stroke="#ffa500" stroke-width="1.7" stroke-linejoin="round" stroke-dasharray="8 7.8"/>
<path d="M499.5 334.5V344.5M498.5 334.5h2M498.5 344.5h2M510.5 334.5V357.5M509.5 334.5h2M509.5 357.5h2M522.5 335.5V365.5M521.5 335.5h2M521.5 365.5h2M547.5 333.5V375.5M546.5 333.5h2M546.5 375.5h2M597.5 345.5V375.5M596.5 345.5h2M596.5 375.5h2M697.5 369.5V391.5M696.5 369.5h2M696.5 391.5h2" stroke="#111" stroke-width="0.8"/>
<polyline points="499.6,333.6 510.5,337.8 522.9,345.1 547.8,354.7 597.7,363.8 697.4,376.4" stroke="#ffff00" stroke-width="1.7" stroke-linejoin="round" stroke-dasharray="8.2 3.6 2.4 3.4"/>
<path d="M499.5 328.5V338.5M498.5 328.5h2M498.5 338.5h2M510.5 326.5V348.5M509.5 326.5h2M509.5 348.5h2M522.5 330.5V360.5M521.5 330.5h2M521.5 360.5h2M547.5 333.5V376.5M546.5 333.5h2M546.5 376.5h2M597.5 348.5V378.5M596.5 348.5h2M596.5 378.5h2M697.5 365.5V386.5M696.5 365.5h2M696.5 386.5h2" stroke="#111" stroke-width="0.8"/>
<polyline points="499.6,325.8 510.5,331.2 522.9,339.0 547.8,346.3 597.7,352.8 697.4,369.1" stroke="#00ff00" stroke-width="1.7" stroke-linejoin="round" stroke-dasharray="11.8 3.6 2.4 3.6 2.4 3.6 2.4 3.6"/>
<path d="M499.5 320.5V331.5M498.5 320.5h2M498.5 331.5h2M510.5 321.5V341.5M509.5 321.5h2M509.5 341.5h2M522.5 324.5V354.5M521.5 324.5h2M521.5 354.5h2M547.5 329.5V363.5M546.5 329.5h2M546.5 363.5h2M597.5 336.5V368.5M596.5 336.5h2M596.5 368.5h2M697.5 359.5V378.5M696.5 359.5h2M696.5 378.5h2" stroke="#111" stroke-width="0.8"/>
<polyline points="499.6,331.8 510.5,333.3 522.9,336.0 547.8,340.6 597.7,338.3 697.4,352.3" stroke="#0000ff" stroke-width="1.7" stroke-linejoin="round" stroke-dasharray="15.7 8"/>
<path d="M499.5 326.5V337.5M498.5 326.5h2M498.5 337.5h2M510.5 322.5V343.5M509.5 322.5h2M509.5 343.5h2M522.5 321.5V351.5M521.5 321.5h2M521.5 351.5h2M547.5 326.5V354.5M546.5 326.5h2M546.5 354.5h2M597.5 321.5V355.5M596.5 321.5h2M596.5 355.5h2M697.5 343.5V360.5M696.5 343.5h2M696.5 360.5h2" stroke="#111" stroke-width="0.8"/>
<polyline points="499.6,345.1 510.5,333.0 522.9,336.0 547.8,337.0 597.7,340.3 697.4,352.8" stroke="#a020f0" stroke-width="1.7" stroke-linejoin="round"/>
<path d="M499.5 340.5V349.5M498.5 340.5h2M498.5 349.5h2M510.5 322.5V343.5M509.5 322.5h2M509.5 343.5h2M522.5 321.5V351.5M521.5 321.5h2M521.5 351.5h2M547.5 324.5V349.5M546.5 324.5h2M546.5 349.5h2M597.5 323.5V357.5M596.5 323.5h2M596.5 357.5h2M697.5 344.5V361.5M696.5 344.5h2M696.5 361.5h2" stroke="#111" stroke-width="0.8"/>
<polyline points="499.6,347.5 510.5,334.2 522.9,336.9 547.8,337.2 597.7,341.0 697.4,353.5" stroke="#ee82ee" stroke-width="1.7" stroke-linejoin="round"/>
<path d="M499.5 343.5V352.5M498.5 343.5h2M498.5 352.5h2M510.5 323.5V344.5M509.5 323.5h2M509.5 344.5h2M522.5 321.5V351.5M521.5 321.5h2M521.5 351.5h2M547.5 324.5V349.5M546.5 324.5h2M546.5 349.5h2M597.5 323.5V358.5M596.5 323.5h2M596.5 358.5h2M697.5 344.5V362.5M696.5 344.5h2M696.5 362.5h2" stroke="#111" stroke-width="0.8"/>
</g>
<g font-family="'Liberation Sans', sans-serif" fill="#000">
<rect x="104.0" y="65.0" width="156.5" height="58.0" fill="#fff" stroke="#606060" stroke-width="1"/>
<line x1="119.3" y1="77.5" x2="182.4" y2="77.5" stroke="#000000" stroke-width="1.05" opacity="0.85"/>
<g transform="translate(193.1 81.8) scale(1.10 1)"><text x="0" y="0" font-size="15" letter-spacing="0.45">t=0</text></g>
<line x1="119.3" y1="94.3" x2="182.4" y2="94.3" stroke="#ff0000" stroke-width="1.05" opacity="0.7" stroke-dasharray="1.3 4.2"/>
<g transform="translate(193.1 98.2) scale(1.10 1)"><text x="0" y="0" font-size="15" letter-spacing="0.45">t=0.05t<tspan dy="3.6" dx="0.3" font-size="8.6" font-weight="bold" letter-spacing="0">ff</tspan></text></g>
<line x1="119.3" y1="110.5" x2="182.4" y2="110.5" stroke="#ffa500" stroke-width="1.05" opacity="0.6" stroke-dasharray="8 7.8"/>
<g transform="translate(193.1 114.7) scale(1.10 1)"><text x="0" y="0" font-size="15" letter-spacing="0.45">t=0.15t<tspan dy="3.6" dx="0.3" font-size="8.6" font-weight="bold" letter-spacing="0">ff</tspan></text></g>
<rect x="306.9" y="65.0" width="156.5" height="41.4" fill="#fff" stroke="#606060" stroke-width="1"/>
<line x1="322.3" y1="77.5" x2="385.4" y2="77.5" stroke="#ffff00" stroke-width="1.05" opacity="0.9" stroke-dasharray="8.2 3.6 2.4 3.4"/>
<g transform="translate(396.1 81.8) scale(1.10 1)"><text x="0" y="0" font-size="15" letter-spacing="0.45">t=0.25t<tspan dy="3.6" dx="0.3" font-size="8.6" font-weight="bold" letter-spacing="0">ff</tspan></text></g>
<line x1="322.3" y1="94.3" x2="385.4" y2="94.3" stroke="#00ff00" stroke-width="1.05" opacity="0.6" stroke-dasharray="11.8 3.6 2.4 3.6 2.4 3.6 2.4 3.6"/>
<g transform="translate(396.1 98.2) scale(1.10 1)"><text x="0" y="0" font-size="15" letter-spacing="0.45">t=0.35t<tspan dy="3.6" dx="0.3" font-size="8.6" font-weight="bold" letter-spacing="0">ff</tspan></text></g>
<rect x="509.5" y="65.0" width="156.9" height="58.0" fill="#fff" stroke="#606060" stroke-width="1"/>
<line x1="525.4" y1="77.5" x2="588.5" y2="77.5" stroke="#0000ff" stroke-width="1.05" opacity="0.75" stroke-dasharray="15.7 8"/>
<g transform="translate(599.2 81.8) scale(1.10 1)"><text x="0" y="0" font-size="15" letter-spacing="0.45" stroke="#000" stroke-width="0.3">t=0.45t<tspan dy="3.6" dx="0.3" font-size="8.6" font-weight="bold" letter-spacing="0">ff</tspan></text></g>
<line x1="525.4" y1="94.3" x2="588.5" y2="94.3" stroke="#a020f0" stroke-width="1.05" opacity="0.5"/>
<g transform="translate(599.2 98.2) scale(1.10 1)"><text x="0" y="0" font-size="15" letter-spacing="0.45" stroke="#000" stroke-width="0.3">t=0.55t<tspan dy="3.6" dx="0.3" font-size="8.6" font-weight="bold" letter-spacing="0">ff</tspan></text></g>
<line x1="525.4" y1="110.5" x2="588.5" y2="110.5" stroke="#ee82ee" stroke-width="1.05" opacity="0.5"/>
<g transform="translate(599.2 114.7) scale(1.10 1)"><text x="0" y="0" font-size="15" letter-spacing="0.45" stroke="#000" stroke-width="0.3">t=0.6t<tspan dy="3.6" dx="0.3" font-size="8.6" font-weight="bold" letter-spacing="0">ff</tspan></text></g>
</g>
<path d="M93.50 173.52h2.1M296.53 173.52h-2.1M296.53 173.52h2.1M499.57 173.52h-2.1M499.57 173.52h2.1M702.60 173.52h-2.1M93.50 169.21h2.1M296.53 169.21h-2.1M296.53 169.21h2.1M499.57 169.21h-2.1M499.57 169.21h2.1M702.60 169.21h-2.1M93.50 164.90h2.1M296.53 164.90h-2.1M296.53 164.90h2.1M499.57 164.90h-2.1M499.57 164.90h2.1M702.60 164.90h-2.1M93.50 160.59h2.1M296.53 160.59h-2.1M296.53 160.59h2.1M499.57 160.59h-2.1M499.57 160.59h2.1M702.60 160.59h-2.1M93.50 151.97h2.1M296.53 151.97h-2.1M296.53 151.97h2.1M499.57 151.97h-2.1M499.57 151.97h2.1M702.60 151.97h-2.1M93.50 147.66h2.1M296.53 147.66h-2.1M296.53 147.66h2.1M499.57 147.66h-2.1M499.57 147.66h2.1M702.60 147.66h-2.1M93.50 143.34h2.1M296.53 143.34h-2.1M296.53 143.34h2.1M499.57 143.34h-2.1M499.57 143.34h2.1M702.60 143.34h-2.1M93.50 139.03h2.1M296.53 139.03h-2.1M296.53 139.03h2.1M499.57 139.03h-2.1M499.57 139.03h2.1M702.60 139.03h-2.1M93.50 130.41h2.1M296.53 130.41h-2.1M296.53 130.41h2.1M499.57 130.41h-2.1M499.57 130.41h2.1M702.60 130.41h-2.1M93.50 126.10h2.1M296.53 126.10h-2.1M296.53 126.10h2.1M499.57 126.10h-2.1M499.57 126.10h2.1M702.60 126.10h-2.1M93.50 121.79h2.1M296.53 121.79h-2.1M296.53 121.79h2.1M499.57 121.79h-2.1M499.57 121.79h2.1M702.60 121.79h-2.1M93.50 117.48h2.1M296.53 117.48h-2.1M296.53 117.48h2.1M499.57 117.48h-2.1M499.57 117.48h2.1M702.60 117.48h-2.1M93.50 108.86h2.1M296.53 108.86h-2.1M296.53 108.86h2.1M499.57 108.86h-2.1M499.57 108.86h2.1M702.60 108.86h-2.1M93.50 104.54h2.1M296.53 104.54h-2.1M296.53 104.54h2.1M499.57 104.54h-2.1M499.57 104.54h2.1M702.60 104.54h-2.1M93.50 100.23h2.1M296.53 100.23h-2.1M296.53 100.23h2.1M499.57 100.23h-2.1M499.57 100.23h2.1M702.60 100.23h-2.1M93.50 95.92h2.1M296.53 95.92h-2.1M296.53 95.92h2.1M499.57 95.92h-2.1M499.57 95.92h2.1M702.60 95.92h-2.1M93.50 87.30h2.1M296.53 87.30h-2.1M296.53 87.30h2.1M499.57 87.30h-2.1M499.57 87.30h2.1M702.60 87.30h-2.1M93.50 82.99h2.1M296.53 82.99h-2.1M296.53 82.99h2.1M499.57 82.99h-2.1M499.57 82.99h2.1M702.60 82.99h-2.1M93.50 78.68h2.1M296.53 78.68h-2.1M296.53 78.68h2.1M499.57 78.68h-2.1M499.57 78.68h2.1M702.60 78.68h-2.1M93.50 74.37h2.1M296.53 74.37h-2.1M296.53 74.37h2.1M499.57 74.37h-2.1M499.57 74.37h2.1M702.60 74.37h-2.1M93.50 65.74h2.1M296.53 65.74h-2.1M296.53 65.74h2.1M499.57 65.74h-2.1M499.57 65.74h2.1M702.60 65.74h-2.1M93.50 61.43h2.1M296.53 61.43h-2.1M296.53 61.43h2.1M499.57 61.43h-2.1M499.57 61.43h2.1M702.60 61.43h-2.1M93.50 57.12h2.1M296.53 57.12h-2.1M296.53 57.12h2.1M499.57 57.12h-2.1M499.57 57.12h2.1M702.60 57.12h-2.1M93.50 52.81h2.1M296.53 52.81h-2.1M296.53 52.81h2.1M499.57 52.81h-2.1M499.57 52.81h2.1M702.60 52.81h-2.1M93.50 304.36h2.1M296.53 304.36h-2.1M296.53 304.36h2.1M499.57 304.36h-2.1M499.57 304.36h2.1M702.60 304.36h-2.1M93.50 301.54h2.1M296.53 301.54h-2.1M296.53 301.54h2.1M499.57 301.54h-2.1M499.57 301.54h2.1M702.60 301.54h-2.1M93.50 298.73h2.1M296.53 298.73h-2.1M296.53 298.73h2.1M499.57 298.73h-2.1M499.57 298.73h2.1M702.60 298.73h-2.1M93.50 295.92h2.1M296.53 295.92h-2.1M296.53 295.92h2.1M499.57 295.92h-2.1M499.57 295.92h2.1M702.60 295.92h-2.1M93.50 293.11h2.1M296.53 293.11h-2.1M296.53 293.11h2.1M499.57 293.11h-2.1M499.57 293.11h2.1M702.60 293.11h-2.1M93.50 287.49h2.1M296.53 287.49h-2.1M296.53 287.49h2.1M499.57 287.49h-2.1M499.57 287.49h2.1M702.60 287.49h-2.1M93.50 284.67h2.1M296.53 284.67h-2.1M296.53 284.67h2.1M499.57 284.67h-2.1M499.57 284.67h2.1M702.60 284.67h-2.1M93.50 281.86h2.1M296.53 281.86h-2.1M296.53 281.86h2.1M499.57 281.86h-2.1M499.57 281.86h2.1M702.60 281.86h-2.1M93.50 279.05h2.1M296.53 279.05h-2.1M296.53 279.05h2.1M499.57 279.05h-2.1M499.57 279.05h2.1M702.60 279.05h-2.1M93.50 276.24h2.1M296.53 276.24h-2.1M296.53 276.24h2.1M499.57 276.24h-2.1M499.57 276.24h2.1M702.60 276.24h-2.1M93.50 273.43h2.1M296.53 273.43h-2.1M296.53 273.43h2.1M499.57 273.43h-2.1M499.57 273.43h2.1M702.60 273.43h-2.1M93.50 270.62h2.1M296.53 270.62h-2.1M296.53 270.62h2.1M499.57 270.62h-2.1M499.57 270.62h2.1M702.60 270.62h-2.1M93.50 267.80h2.1M296.53 267.80h-2.1M296.53 267.80h2.1M499.57 267.80h-2.1M499.57 267.80h2.1M702.60 267.80h-2.1M93.50 264.99h2.1M296.53 264.99h-2.1M296.53 264.99h2.1M499.57 264.99h-2.1M499.57 264.99h2.1M702.60 264.99h-2.1M93.50 259.37h2.1M296.53 259.37h-2.1M296.53 259.37h2.1M499.57 259.37h-2.1M499.57 259.37h2.1M702.60 259.37h-2.1M93.50 256.56h2.1M296.53 256.56h-2.1M296.53 256.56h2.1M499.57 256.56h-2.1M499.57 256.56h2.1M702.60 256.56h-2.1M93.50 253.75h2.1M296.53 253.75h-2.1M296.53 253.75h2.1M499.57 253.75h-2.1M499.57 253.75h2.1M702.60 253.75h-2.1M93.50 250.93h2.1M296.53 250.93h-2.1M296.53 250.93h2.1M499.57 250.93h-2.1M499.57 250.93h2.1M702.60 250.93h-2.1M93.50 248.12h2.1M296.53 248.12h-2.1M296.53 248.12h2.1M499.57 248.12h-2.1M499.57 248.12h2.1M702.60 248.12h-2.1M93.50 245.31h2.1M296.53 245.31h-2.1M296.53 245.31h2.1M499.57 245.31h-2.1M499.57 245.31h2.1M702.60 245.31h-2.1M93.50 242.50h2.1M296.53 242.50h-2.1M296.53 242.50h2.1M499.57 242.50h-2.1M499.57 242.50h2.1M702.60 242.50h-2.1M93.50 239.69h2.1M296.53 239.69h-2.1M296.53 239.69h2.1M499.57 239.69h-2.1M499.57 239.69h2.1M702.60 239.69h-2.1M93.50 236.88h2.1M296.53 236.88h-2.1M296.53 236.88h2.1M499.57 236.88h-2.1M499.57 236.88h2.1M702.60 236.88h-2.1M93.50 231.25h2.1M296.53 231.25h-2.1M296.53 231.25h2.1M499.57 231.25h-2.1M499.57 231.25h2.1M702.60 231.25h-2.1M93.50 228.44h2.1M296.53 228.44h-2.1M296.53 228.44h2.1M499.57 228.44h-2.1M499.57 228.44h2.1M702.60 228.44h-2.1M93.50 225.63h2.1M296.53 225.63h-2.1M296.53 225.63h2.1M499.57 225.63h-2.1M499.57 225.63h2.1M702.60 225.63h-2.1M93.50 222.82h2.1M296.53 222.82h-2.1M296.53 222.82h2.1M499.57 222.82h-2.1M499.57 222.82h2.1M702.60 222.82h-2.1M93.50 220.01h2.1M296.53 220.01h-2.1M296.53 220.01h2.1M499.57 220.01h-2.1M499.57 220.01h2.1M702.60 220.01h-2.1M93.50 217.20h2.1M296.53 217.20h-2.1M296.53 217.20h2.1M499.57 217.20h-2.1M499.57 217.20h2.1M702.60 217.20h-2.1M93.50 214.38h2.1M296.53 214.38h-2.1M296.53 214.38h2.1M499.57 214.38h-2.1M499.57 214.38h2.1M702.60 214.38h-2.1M93.50 211.57h2.1M296.53 211.57h-2.1M296.53 211.57h2.1M499.57 211.57h-2.1M499.57 211.57h2.1M702.60 211.57h-2.1M93.50 208.76h2.1M296.53 208.76h-2.1M296.53 208.76h2.1M499.57 208.76h-2.1M499.57 208.76h2.1M702.60 208.76h-2.1M93.50 203.14h2.1M296.53 203.14h-2.1M296.53 203.14h2.1M499.57 203.14h-2.1M499.57 203.14h2.1M702.60 203.14h-2.1M93.50 200.33h2.1M296.53 200.33h-2.1M296.53 200.33h2.1M499.57 200.33h-2.1M499.57 200.33h2.1M702.60 200.33h-2.1M93.50 197.51h2.1M296.53 197.51h-2.1M296.53 197.51h2.1M499.57 197.51h-2.1M499.57 197.51h2.1M702.60 197.51h-2.1M93.50 194.70h2.1M296.53 194.70h-2.1M296.53 194.70h2.1M499.57 194.70h-2.1M499.57 194.70h2.1M702.60 194.70h-2.1M93.50 191.89h2.1M296.53 191.89h-2.1M296.53 191.89h2.1M499.57 191.89h-2.1M499.57 191.89h2.1M702.60 191.89h-2.1M93.50 189.08h2.1M296.53 189.08h-2.1M296.53 189.08h2.1M499.57 189.08h-2.1M499.57 189.08h2.1M702.60 189.08h-2.1M93.50 186.27h2.1M296.53 186.27h-2.1M296.53 186.27h2.1M499.57 186.27h-2.1M499.57 186.27h2.1M702.60 186.27h-2.1M93.50 183.46h2.1M296.53 183.46h-2.1M296.53 183.46h2.1M499.57 183.46h-2.1M499.57 183.46h2.1M702.60 183.46h-2.1M93.50 180.64h2.1M296.53 180.64h-2.1M296.53 180.64h2.1M499.57 180.64h-2.1M499.57 180.64h2.1M702.60 180.64h-2.1M93.50 431.11h2.1M296.53 431.11h-2.1M296.53 431.11h2.1M499.57 431.11h-2.1M499.57 431.11h2.1M702.60 431.11h-2.1M93.50 425.72h2.1M296.53 425.72h-2.1M296.53 425.72h2.1M499.57 425.72h-2.1M499.57 425.72h2.1M702.60 425.72h-2.1M93.50 420.33h2.1M296.53 420.33h-2.1M296.53 420.33h2.1M499.57 420.33h-2.1M499.57 420.33h2.1M702.60 420.33h-2.1M93.50 409.56h2.1M296.53 409.56h-2.1M296.53 409.56h2.1M499.57 409.56h-2.1M499.57 409.56h2.1M702.60 409.56h-2.1M93.50 404.17h2.1M296.53 404.17h-2.1M296.53 404.17h2.1M499.57 404.17h-2.1M499.57 404.17h2.1M702.60 404.17h-2.1M93.50 398.78h2.1M296.53 398.78h-2.1M296.53 398.78h2.1M499.57 398.78h-2.1M499.57 398.78h2.1M702.60 398.78h-2.1M93.50 393.39h2.1M296.53 393.39h-2.1M296.53 393.39h2.1M499.57 393.39h-2.1M499.57 393.39h2.1M702.60 393.39h-2.1M93.50 382.61h2.1M296.53 382.61h-2.1M296.53 382.61h2.1M499.57 382.61h-2.1M499.57 382.61h2.1M702.60 382.61h-2.1M93.50 377.22h2.1M296.53 377.22h-2.1M296.53 377.22h2.1M499.57 377.22h-2.1M499.57 377.22h2.1M702.60 377.22h-2.1M93.50 371.83h2.1M296.53 371.83h-2.1M296.53 371.83h2.1M499.57 371.83h-2.1M499.57 371.83h2.1M702.60 371.83h-2.1M93.50 366.44h2.1M296.53 366.44h-2.1M296.53 366.44h2.1M499.57 366.44h-2.1M499.57 366.44h2.1M702.60 366.44h-2.1M93.50 355.67h2.1M296.53 355.67h-2.1M296.53 355.67h2.1M499.57 355.67h-2.1M499.57 355.67h2.1M702.60 355.67h-2.1M93.50 350.28h2.1M296.53 350.28h-2.1M296.53 350.28h2.1M499.57 350.28h-2.1M499.57 350.28h2.1M702.60 350.28h-2.1M93.50 344.89h2.1M296.53 344.89h-2.1M296.53 344.89h2.1M499.57 344.89h-2.1M499.57 344.89h2.1M702.60 344.89h-2.1M93.50 339.50h2.1M296.53 339.50h-2.1M296.53 339.50h2.1M499.57 339.50h-2.1M499.57 339.50h2.1M702.60 339.50h-2.1M93.50 328.72h2.1M296.53 328.72h-2.1M296.53 328.72h2.1M499.57 328.72h-2.1M499.57 328.72h2.1M702.60 328.72h-2.1M93.50 323.33h2.1M296.53 323.33h-2.1M296.53 323.33h2.1M499.57 323.33h-2.1M499.57 323.33h2.1M702.60 323.33h-2.1M93.50 317.94h2.1M296.53 317.94h-2.1M296.53 317.94h2.1M499.57 317.94h-2.1M499.57 317.94h2.1M702.60 317.94h-2.1M93.50 312.56h2.1M296.53 312.56h-2.1M296.53 312.56h2.1M499.57 312.56h-2.1M499.57 312.56h2.1M702.60 312.56h-2.1M99.73 48.50v1.4M99.73 177.83v-1.4M99.73 177.83v1.4M99.73 307.17v-1.4M99.73 307.17v1.4M99.73 436.50v-1.4M107.52 48.50v1.4M107.52 177.83v-1.4M107.52 177.83v1.4M107.52 307.17v-1.4M107.52 307.17v1.4M107.52 436.50v-1.4M115.31 48.50v1.4M115.31 177.83v-1.4M115.31 177.83v1.4M115.31 307.17v-1.4M115.31 307.17v1.4M115.31 436.50v-1.4M130.88 48.50v1.4M130.88 177.83v-1.4M130.88 177.83v1.4M130.88 307.17v-1.4M130.88 307.17v1.4M130.88 436.50v-1.4M138.67 48.50v1.4M138.67 177.83v-1.4M138.67 177.83v1.4M138.67 307.17v-1.4M138.67 307.17v1.4M138.67 436.50v-1.4M146.46 48.50v1.4M146.46 177.83v-1.4M146.46 177.83v1.4M146.46 307.17v-1.4M146.46 307.17v1.4M146.46 436.50v-1.4M162.03 48.50v1.4M162.03 177.83v-1.4M162.03 177.83v1.4M162.03 307.17v-1.4M162.03 307.17v1.4M162.03 436.50v-1.4M169.82 48.50v1.4M169.82 177.83v-1.4M169.82 177.83v1.4M169.82 307.17v-1.4M169.82 307.17v1.4M169.82 436.50v-1.4M177.61 48.50v1.4M177.61 177.83v-1.4M177.61 177.83v1.4M177.61 307.17v-1.4M177.61 307.17v1.4M177.61 436.50v-1.4M193.18 48.50v1.4M193.18 177.83v-1.4M193.18 177.83v1.4M193.18 307.17v-1.4M193.18 307.17v1.4M193.18 436.50v-1.4M200.97 48.50v1.4M200.97 177.83v-1.4M200.97 177.83v1.4M200.97 307.17v-1.4M200.97 307.17v1.4M200.97 436.50v-1.4M208.75 48.50v1.4M208.75 177.83v-1.4M208.75 177.83v1.4M208.75 307.17v-1.4M208.75 307.17v1.4M208.75 436.50v-1.4M224.33 48.50v1.4M224.33 177.83v-1.4M224.33 177.83v1.4M224.33 307.17v-1.4M224.33 307.17v1.4M224.33 436.50v-1.4M232.12 48.50v1.4M232.12 177.83v-1.4M232.12 177.83v1.4M232.12 307.17v-1.4M232.12 307.17v1.4M232.12 436.50v-1.4M239.91 48.50v1.4M239.91 177.83v-1.4M239.91 177.83v1.4M239.91 307.17v-1.4M239.91 307.17v1.4M239.91 436.50v-1.4M255.48 48.50v1.4M255.48 177.83v-1.4M255.48 177.83v1.4M255.48 307.17v-1.4M255.48 307.17v1.4M255.48 436.50v-1.4M263.27 48.50v1.4M263.27 177.83v-1.4M263.27 177.83v1.4M263.27 307.17v-1.4M263.27 307.17v1.4M263.27 436.50v-1.4M271.06 48.50v1.4M271.06 177.83v-1.4M271.06 177.83v1.4M271.06 307.17v-1.4M271.06 307.17v1.4M271.06 436.50v-1.4M286.63 48.50v1.4M286.63 177.83v-1.4M286.63 177.83v1.4M286.63 307.17v-1.4M286.63 307.17v1.4M286.63 436.50v-1.4M294.42 48.50v1.4M294.42 177.83v-1.4M294.42 177.83v1.4M294.42 307.17v-1.4M294.42 307.17v1.4M294.42 436.50v-1.4M302.76 48.50v1.4M302.76 177.83v-1.4M302.76 177.83v1.4M302.76 307.17v-1.4M302.76 307.17v1.4M302.76 436.50v-1.4M310.55 48.50v1.4M310.55 177.83v-1.4M310.55 177.83v1.4M310.55 307.17v-1.4M310.55 307.17v1.4M310.55 436.50v-1.4M318.34 48.50v1.4M318.34 177.83v-1.4M318.34 177.83v1.4M318.34 307.17v-1.4M318.34 307.17v1.4M318.34 436.50v-1.4M333.91 48.50v1.4M333.91 177.83v-1.4M333.91 177.83v1.4M333.91 307.17v-1.4M333.91 307.17v1.4M333.91 436.50v-1.4M341.70 48.50v1.4M341.70 177.83v-1.4M341.70 177.83v1.4M341.70 307.17v-1.4M341.70 307.17v1.4M341.70 436.50v-1.4M349.49 48.50v1.4M349.49 177.83v-1.4M349.49 177.83v1.4M349.49 307.17v-1.4M349.49 307.17v1.4M349.49 436.50v-1.4M365.06 48.50v1.4M365.06 177.83v-1.4M365.06 177.83v1.4M365.06 307.17v-1.4M365.06 307.17v1.4M365.06 436.50v-1.4M372.85 48.50v1.4M372.85 177.83v-1.4M372.85 177.83v1.4M372.85 307.17v-1.4M372.85 307.17v1.4M372.85 436.50v-1.4M380.64 48.50v1.4M380.64 177.83v-1.4M380.64 177.83v1.4M380.64 307.17v-1.4M380.64 307.17v1.4M380.64 436.50v-1.4M396.21 48.50v1.4M396.21 177.83v-1.4M396.21 177.83v1.4M396.21 307.17v-1.4M396.21 307.17v1.4M396.21 436.50v-1.4M404.00 48.50v1.4M404.00 177.83v-1.4M404.00 177.83v1.4M404.00 307.17v-1.4M404.00 307.17v1.4M404.00 436.50v-1.4M411.79 48.50v1.4M411.79 177.83v-1.4M411.79 177.83v1.4M411.79 307.17v-1.4M411.79 307.17v1.4M411.79 436.50v-1.4M427.36 48.50v1.4M427.36 177.83v-1.4M427.36 177.83v1.4M427.36 307.17v-1.4M427.36 307.17v1.4M427.36 436.50v-1.4M435.15 48.50v1.4M435.15 177.83v-1.4M435.15 177.83v1.4M435.15 307.17v-1.4M435.15 307.17v1.4M435.15 436.50v-1.4M442.94 48.50v1.4M442.94 177.83v-1.4M442.94 177.83v1.4M442.94 307.17v-1.4M442.94 307.17v1.4M442.94 436.50v-1.4M458.51 48.50v1.4M458.51 177.83v-1.4M458.51 177.83v1.4M458.51 307.17v-1.4M458.51 307.17v1.4M458.51 436.50v-1.4M466.30 48.50v1.4M466.30 177.83v-1.4M466.30 177.83v1.4M466.30 307.17v-1.4M466.30 307.17v1.4M466.30 436.50v-1.4M474.09 48.50v1.4M474.09 177.83v-1.4M474.09 177.83v1.4M474.09 307.17v-1.4M474.09 307.17v1.4M474.09 436.50v-1.4M489.66 48.50v1.4M489.66 177.83v-1.4M489.66 177.83v1.4M489.66 307.17v-1.4M489.66 307.17v1.4M489.66 436.50v-1.4M497.45 48.50v1.4M497.45 177.83v-1.4M497.45 177.83v1.4M497.45 307.17v-1.4M497.45 307.17v1.4M497.45 436.50v-1.4M505.80 48.50v1.4M505.80 177.83v-1.4M505.80 177.83v1.4M505.80 307.17v-1.4M505.80 307.17v1.4M505.80 436.50v-1.4M513.58 48.50v1.4M513.58 177.83v-1.4M513.58 177.83v1.4M513.58 307.17v-1.4M513.58 307.17v1.4M513.58 436.50v-1.4M521.37 48.50v1.4M521.37 177.83v-1.4M521.37 177.83v1.4M521.37 307.17v-1.4M521.37 307.17v1.4M521.37 436.50v-1.4M536.95 48.50v1.4M536.95 177.83v-1.4M536.95 177.83v1.4M536.95 307.17v-1.4M536.95 307.17v1.4M536.95 436.50v-1.4M544.73 48.50v1.4M544.73 177.83v-1.4M544.73 177.83v1.4M544.73 307.17v-1.4M544.73 307.17v1.4M544.73 436.50v-1.4M552.52 48.50v1.4M552.52 177.83v-1.4M552.52 177.83v1.4M552.52 307.17v-1.4M552.52 307.17v1.4M552.52 436.50v-1.4M568.10 48.50v1.4M568.10 177.83v-1.4M568.10 177.83v1.4M568.10 307.17v-1.4M568.10 307.17v1.4M568.10 436.50v-1.4M575.88 48.50v1.4M575.88 177.83v-1.4M575.88 177.83v1.4M575.88 307.17v-1.4M575.88 307.17v1.4M575.88 436.50v-1.4M583.67 48.50v1.4M583.67 177.83v-1.4M583.67 177.83v1.4M583.67 307.17v-1.4M583.67 307.17v1.4M583.67 436.50v-1.4M599.25 48.50v1.4M599.25 177.83v-1.4M599.25 177.83v1.4M599.25 307.17v-1.4M599.25 307.17v1.4M599.25 436.50v-1.4M607.03 48.50v1.4M607.03 177.83v-1.4M607.03 177.83v1.4M607.03 307.17v-1.4M607.03 307.17v1.4M607.03 436.50v-1.4M614.82 48.50v1.4M614.82 177.83v-1.4M614.82 177.83v1.4M614.82 307.17v-1.4M614.82 307.17v1.4M614.82 436.50v-1.4M630.40 48.50v1.4M630.40 177.83v-1.4M630.40 177.83v1.4M630.40 307.17v-1.4M630.40 307.17v1.4M630.40 436.50v-1.4M638.18 48.50v1.4M638.18 177.83v-1.4M638.18 177.83v1.4M638.18 307.17v-1.4M638.18 307.17v1.4M638.18 436.50v-1.4M645.97 48.50v1.4M645.97 177.83v-1.4M645.97 177.83v1.4M645.97 307.17v-1.4M645.97 307.17v1.4M645.97 436.50v-1.4M661.55 48.50v1.4M661.55 177.83v-1.4M661.55 177.83v1.4M661.55 307.17v-1.4M661.55 307.17v1.4M661.55 436.50v-1.4M669.33 48.50v1.4M669.33 177.83v-1.4M669.33 177.83v1.4M669.33 307.17v-1.4M669.33 307.17v1.4M669.33 436.50v-1.4M677.12 48.50v1.4M677.12 177.83v-1.4M677.12 177.83v1.4M677.12 307.17v-1.4M677.12 307.17v1.4M677.12 436.50v-1.4M692.70 48.50v1.4M692.70 177.83v-1.4M692.70 177.83v1.4M692.70 307.17v-1.4M692.70 307.17v1.4M692.70 436.50v-1.4M700.48 48.50v1.4M700.48 177.83v-1.4M700.48 177.83v1.4M700.48 307.17v-1.4M700.48 307.17v1.4M700.48 436.50v-1.4" stroke="#3c3c3c" stroke-width="0.8" fill="none"/>
<path d="M93.50 156.28h4.1M296.53 156.28h-4.1M296.53 156.28h4.1M499.57 156.28h-4.1M499.57 156.28h4.1M702.60 156.28h-4.1M93.50 134.72h4.1M296.53 134.72h-4.1M296.53 134.72h4.1M499.57 134.72h-4.1M499.57 134.72h4.1M702.60 134.72h-4.1M93.50 113.17h4.1M296.53 113.17h-4.1M296.53 113.17h4.1M499.57 113.17h-4.1M499.57 113.17h4.1M702.60 113.17h-4.1M93.50 91.61h4.1M296.53 91.61h-4.1M296.53 91.61h4.1M499.57 91.61h-4.1M499.57 91.61h4.1M702.60 91.61h-4.1M93.50 70.06h4.1M296.53 70.06h-4.1M296.53 70.06h4.1M499.57 70.06h-4.1M499.57 70.06h4.1M702.60 70.06h-4.1M93.50 290.30h4.1M296.53 290.30h-4.1M296.53 290.30h4.1M499.57 290.30h-4.1M499.57 290.30h4.1M702.60 290.30h-4.1M93.50 262.18h4.1M296.53 262.18h-4.1M296.53 262.18h4.1M499.57 262.18h-4.1M499.57 262.18h4.1M702.60 262.18h-4.1M93.50 234.07h4.1M296.53 234.07h-4.1M296.53 234.07h4.1M499.57 234.07h-4.1M499.57 234.07h4.1M702.60 234.07h-4.1M93.50 205.95h4.1M296.53 205.95h-4.1M296.53 205.95h4.1M499.57 205.95h-4.1M499.57 205.95h4.1M702.60 205.95h-4.1M93.50 414.94h4.1M296.53 414.94h-4.1M296.53 414.94h4.1M499.57 414.94h-4.1M499.57 414.94h4.1M702.60 414.94h-4.1M93.50 388.00h4.1M296.53 388.00h-4.1M296.53 388.00h4.1M499.57 388.00h-4.1M499.57 388.00h4.1M702.60 388.00h-4.1M93.50 361.06h4.1M296.53 361.06h-4.1M296.53 361.06h4.1M499.57 361.06h-4.1M499.57 361.06h4.1M702.60 361.06h-4.1M93.50 334.11h4.1M296.53 334.11h-4.1M296.53 334.11h4.1M499.57 334.11h-4.1M499.57 334.11h4.1M702.60 334.11h-4.1M123.09 48.50v2.7M123.09 177.83v-2.7M123.09 177.83v2.7M123.09 307.17v-2.7M123.09 307.17v2.7M123.09 436.50v-2.7M154.24 48.50v2.7M154.24 177.83v-2.7M154.24 177.83v2.7M154.24 307.17v-2.7M154.24 307.17v2.7M154.24 436.50v-2.7M185.39 48.50v2.7M185.39 177.83v-2.7M185.39 177.83v2.7M185.39 307.17v-2.7M185.39 307.17v2.7M185.39 436.50v-2.7M216.54 48.50v2.7M216.54 177.83v-2.7M216.54 177.83v2.7M216.54 307.17v-2.7M216.54 307.17v2.7M216.54 436.50v-2.7M247.69 48.50v2.7M247.69 177.83v-2.7M247.69 177.83v2.7M247.69 307.17v-2.7M247.69 307.17v2.7M247.69 436.50v-2.7M278.84 48.50v2.7M278.84 177.83v-2.7M278.84 177.83v2.7M278.84 307.17v-2.7M278.84 307.17v2.7M278.84 436.50v-2.7M326.13 48.50v2.7M326.13 177.83v-2.7M326.13 177.83v2.7M326.13 307.17v-2.7M326.13 307.17v2.7M326.13 436.50v-2.7M357.28 48.50v2.7M357.28 177.83v-2.7M357.28 177.83v2.7M357.28 307.17v-2.7M357.28 307.17v2.7M357.28 436.50v-2.7M388.43 48.50v2.7M388.43 177.83v-2.7M388.43 177.83v2.7M388.43 307.17v-2.7M388.43 307.17v2.7M388.43 436.50v-2.7M419.58 48.50v2.7M419.58 177.83v-2.7M419.58 177.83v2.7M419.58 307.17v-2.7M419.58 307.17v2.7M419.58 436.50v-2.7M450.73 48.50v2.7M450.73 177.83v-2.7M450.73 177.83v2.7M450.73 307.17v-2.7M450.73 307.17v2.7M450.73 436.50v-2.7M481.88 48.50v2.7M481.88 177.83v-2.7M481.88 177.83v2.7M481.88 307.17v-2.7M481.88 307.17v2.7M481.88 436.50v-2.7M529.16 48.50v2.7M529.16 177.83v-2.7M529.16 177.83v2.7M529.16 307.17v-2.7M529.16 307.17v2.7M529.16 436.50v-2.7M560.31 48.50v2.7M560.31 177.83v-2.7M560.31 177.83v2.7M560.31 307.17v-2.7M560.31 307.17v2.7M560.31 436.50v-2.7M591.46 48.50v2.7M591.46 177.83v-2.7M591.46 177.83v2.7M591.46 307.17v-2.7M591.46 307.17v2.7M591.46 436.50v-2.7M622.61 48.50v2.7M622.61 177.83v-2.7M622.61 177.83v2.7M622.61 307.17v-2.7M622.61 307.17v2.7M622.61 436.50v-2.7M653.76 48.50v2.7M653.76 177.83v-2.7M653.76 177.83v2.7M653.76 307.17v-2.7M653.76 307.17v2.7M653.76 436.50v-2.7M684.91 48.50v2.7M684.91 177.83v-2.7M684.91 177.83v2.7M684.91 307.17v-2.7M684.91 307.17v2.7M684.91 436.50v-2.7" stroke="#3c3c3c" stroke-width="0.8" fill="none"/>
<path d="M93.50 48.50V436.50M296.53 48.50V436.50M499.57 48.50V436.50M702.60 48.50V436.50M93.50 48.50H702.60M93.50 177.83H702.60M93.50 307.17H702.60M93.50 436.50H702.60" stroke="#3c3c3c" stroke-width="1.1" fill="none" stroke-linecap="square"/>
<path clip-path="url(#c00)" d="M93.5 150.5V157.5M92.5 150.5h2M92.5 157.5h2" stroke="#111" stroke-width="0.8" fill="none"/>
<path clip-path="url(#c00)" d="M93.5 150.5V157.5M92.5 150.5h2M92.5 157.5h2" stroke="#111" stroke-width="0.8" fill="none"/>
<path clip-path="url(#c00)" d="M93.5 143.5V150.5M92.5 143.5h2M92.5 150.5h2" stroke="#111" stroke-width="0.8" fill="none"/>
<path clip-path="url(#c00)" d="M93.5 124.5V133.5M92.5 124.5h2M92.5 133.5h2" stroke="#111" stroke-width="0.8" fill="none"/>
<path clip-path="url(#c00)" d="M93.5 110.5V120.5M92.5 110.5h2M92.5 120.5h2" stroke="#111" stroke-width="0.8" fill="none"/>
<path clip-path="url(#c00)" d="M93.5 104.5V114.5M92.5 104.5h2M92.5 114.5h2" stroke="#111" stroke-width="0.8" fill="none"/>
<path clip-path="url(#c00)" d="M93.5 105.5V115.5M92.5 105.5h2M92.5 115.5h2" stroke="#111" stroke-width="0.8" fill="none"/>
<path clip-path="url(#c00)" d="M93.5 102.5V112.5M92.5 102.5h2M92.5 112.5h2" stroke="#111" stroke-width="0.8" fill="none"/>
<path clip-path="url(#c01)" d="M296.5 150.5V155.5M295.5 150.5h2M295.5 155.5h2" stroke="#111" stroke-width="0.8" fill="none"/>
<path clip-path="url(#c01)" d="M296.5 150.5V155.5M295.5 150.5h2M295.5 155.5h2" stroke="#111" stroke-width="0.8" fill="none"/>
<path clip-path="url(#c01)" d="M296.5 145.5V150.5M295.5 145.5h2M295.5 150.5h2" stroke="#111" stroke-width="0.8" fill="none"/>
<path clip-path="url(#c01)" d="M296.5 138.5V143.5M295.5 138.5h2M295.5 143.5h2" stroke="#111" stroke-width="0.8" fill="none"/>
<path clip-path="url(#c01)" d="M296.5 113.5V119.5M295.5 113.5h2M295.5 119.5h2" stroke="#111" stroke-width="0.8" fill="none"/>
<path clip-path="url(#c01)" d="M296.5 101.5V107.5M295.5 101.5h2M295.5 107.5h2" stroke="#111" stroke-width="0.8" fill="none"/>
<path clip-path="url(#c01)" d="M296.5 89.5V96.5M295.5 89.5h2M295.5 96.5h2" stroke="#111" stroke-width="0.8" fill="none"/>
<path clip-path="url(#c01)" d="M296.5 82.5V88.5M295.5 82.5h2M295.5 88.5h2" stroke="#111" stroke-width="0.8" fill="none"/>
<path clip-path="url(#c02)" d="M499.5 151.5V155.5M498.5 151.5h2M498.5 155.5h2" stroke="#111" stroke-width="0.8" fill="none"/>
<path clip-path="url(#c02)" d="M499.5 151.5V155.5M498.5 151.5h2M498.5 155.5h2" stroke="#111" stroke-width="0.8" fill="none"/>
<path clip-path="url(#c02)" d="M499.5 147.5V150.5M498.5 147.5h2M498.5 150.5h2" stroke="#111" stroke-width="0.8" fill="none"/>
<path clip-path="url(#c02)" d="M499.5 143.5V146.5M498.5 143.5h2M498.5 146.5h2" stroke="#111" stroke-width="0.8" fill="none"/>
<path clip-path="url(#c02)" d="M499.5 136.5V140.5M498.5 136.5h2M498.5 140.5h2" stroke="#111" stroke-width="0.8" fill="none"/>
<path clip-path="url(#c02)" d="M499.5 125.5V129.5M498.5 125.5h2M498.5 129.5h2" stroke="#111" stroke-width="0.8" fill="none"/>
<path clip-path="url(#c02)" d="M499.5 102.5V107.5M498.5 102.5h2M498.5 107.5h2" stroke="#111" stroke-width="0.8" fill="none"/>
<path clip-path="url(#c02)" d="M499.5 97.5V102.5M498.5 97.5h2M498.5 102.5h2" stroke="#111" stroke-width="0.8" fill="none"/>
<path clip-path="url(#c10)" d="M93.5 269.5V281.5M92.5 269.5h2M92.5 281.5h2" stroke="#111" stroke-width="0.8" fill="none"/>
<path clip-path="url(#c10)" d="M93.5 269.5V281.5M92.5 269.5h2M92.5 281.5h2" stroke="#111" stroke-width="0.8" fill="none"/>
<path clip-path="url(#c10)" d="M93.5 259.5V271.5M92.5 259.5h2M92.5 271.5h2" stroke="#111" stroke-width="0.8" fill="none"/>
<path clip-path="url(#c10)" d="M93.5 235.5V248.5M92.5 235.5h2M92.5 248.5h2" stroke="#111" stroke-width="0.8" fill="none"/>
<path clip-path="url(#c10)" d="M93.5 216.5V231.5M92.5 216.5h2M92.5 231.5h2" stroke="#111" stroke-width="0.8" fill="none"/>
<path clip-path="url(#c10)" d="M93.5 213.5V228.5M92.5 213.5h2M92.5 228.5h2" stroke="#111" stroke-width="0.8" fill="none"/>
<path clip-path="url(#c10)" d="M93.5 212.5V227.5M92.5 212.5h2M92.5 227.5h2" stroke="#111" stroke-width="0.8" fill="none"/>
<path clip-path="url(#c10)" d="M93.5 209.5V225.5M92.5 209.5h2M92.5 225.5h2" stroke="#111" stroke-width="0.8" fill="none"/>
<path clip-path="url(#c11)" d="M296.5 271.5V279.5M295.5 271.5h2M295.5 279.5h2" stroke="#111" stroke-width="0.8" fill="none"/>
<path clip-path="url(#c11)" d="M296.5 271.5V279.5M295.5 271.5h2M295.5 279.5h2" stroke="#111" stroke-width="0.8" fill="none"/>
<path clip-path="url(#c11)" d="M296.5 264.5V273.5M295.5 264.5h2M295.5 273.5h2" stroke="#111" stroke-width="0.8" fill="none"/>
<path clip-path="url(#c11)" d="M296.5 254.5V262.5M295.5 254.5h2M295.5 262.5h2" stroke="#111" stroke-width="0.8" fill="none"/>
<path clip-path="url(#c11)" d="M296.5 222.5V231.5M295.5 222.5h2M295.5 231.5h2" stroke="#111" stroke-width="0.8" fill="none"/>
<path clip-path="url(#c11)" d="M296.5 209.5V218.5M295.5 209.5h2M295.5 218.5h2" stroke="#111" stroke-width="0.8" fill="none"/>
<path clip-path="url(#c11)" d="M296.5 196.5V204.5M295.5 196.5h2M295.5 204.5h2" stroke="#111" stroke-width="0.8" fill="none"/>
<path clip-path="url(#c11)" d="M296.5 190.5V198.5M295.5 190.5h2M295.5 198.5h2" stroke="#111" stroke-width="0.8" fill="none"/>
<path clip-path="url(#c12)" d="M499.5 272.5V280.5M498.5 272.5h2M498.5 280.5h2" stroke="#111" stroke-width="0.8" fill="none"/>
<path clip-path="url(#c12)" d="M499.5 272.5V280.5M498.5 272.5h2M498.5 280.5h2" stroke="#111" stroke-width="0.8" fill="none"/>
<path clip-path="url(#c12)" d="M499.5 264.5V272.5M498.5 264.5h2M498.5 272.5h2" stroke="#111" stroke-width="0.8" fill="none"/>
<path clip-path="url(#c12)" d="M499.5 256.5V264.5M498.5 256.5h2M498.5 264.5h2" stroke="#111" stroke-width="0.8" fill="none"/>
<path clip-path="url(#c12)" d="M499.5 246.5V254.5M498.5 246.5h2M498.5 254.5h2" stroke="#111" stroke-width="0.8" fill="none"/>
<path clip-path="url(#c12)" d="M499.5 233.5V241.5M498.5 233.5h2M498.5 241.5h2" stroke="#111" stroke-width="0.8" fill="none"/>
<path clip-path="url(#c12)" d="M499.5 207.5V215.5M498.5 207.5h2M498.5 215.5h2" stroke="#111" stroke-width="0.8" fill="none"/>
<path clip-path="url(#c12)" d="M499.5 202.5V210.5M498.5 202.5h2M498.5 210.5h2" stroke="#111" stroke-width="0.8" fill="none"/>
<path clip-path="url(#c20)" d="M93.5 328.5V346.5M92.5 328.5h2M92.5 346.5h2" stroke="#111" stroke-width="0.8" fill="none"/>
<path clip-path="url(#c20)" d="M93.5 332.5V347.5M92.5 332.5h2M92.5 347.5h2" stroke="#111" stroke-width="0.8" fill="none"/>
<path clip-path="url(#c20)" d="M93.5 325.5V346.5M92.5 325.5h2M92.5 346.5h2" stroke="#111" stroke-width="0.8" fill="none"/>
<path clip-path="url(#c20)" d="M93.5 327.5V346.5M92.5 327.5h2M92.5 346.5h2" stroke="#111" stroke-width="0.8" fill="none"/>
<path clip-path="url(#c20)" d="M93.5 330.5V347.5M92.5 330.5h2M92.5 347.5h2" stroke="#111" stroke-width="0.8" fill="none"/>
<path clip-path="url(#c20)" d="M93.5 343.5V349.5M92.5 343.5h2M92.5 349.5h2" stroke="#111" stroke-width="0.8" fill="none"/>
<path clip-path="url(#c20)" d="M93.5 340.5V349.5M92.5 340.5h2M92.5 349.5h2" stroke="#111" stroke-width="0.8" fill="none"/>
<path clip-path="url(#c20)" d="M93.5 337.5V348.5M92.5 337.5h2M92.5 348.5h2" stroke="#111" stroke-width="0.8" fill="none"/>
<path clip-path="url(#c21)" d="M296.5 333.5V350.5M295.5 333.5h2M295.5 350.5h2" stroke="#111" stroke-width="0.8" fill="none"/>
<path clip-path="url(#c21)" d="M296.5 333.5V350.5M295.5 333.5h2M295.5 350.5h2" stroke="#111" stroke-width="0.8" fill="none"/>
<path clip-path="url(#c21)" d="M296.5 331.5V350.5M295.5 331.5h2M295.5 350.5h2" stroke="#111" stroke-width="0.8" fill="none"/>
<path clip-path="url(#c21)" d="M296.5 330.5V349.5M295.5 330.5h2M295.5 349.5h2" stroke="#111" stroke-width="0.8" fill="none"/>
<path clip-path="url(#c21)" d="M296.5 334.5V351.5M295.5 334.5h2M295.5 351.5h2" stroke="#111" stroke-width="0.8" fill="none"/>
<path clip-path="url(#c21)" d="M296.5 344.5V356.5M295.5 344.5h2M295.5 356.5h2" stroke="#111" stroke-width="0.8" fill="none"/>
<path clip-path="url(#c21)" d="M296.5 344.5V357.5M295.5 344.5h2M295.5 357.5h2" stroke="#111" stroke-width="0.8" fill="none"/>
<path clip-path="url(#c21)" d="M296.5 346.5V358.5M295.5 346.5h2M295.5 358.5h2" stroke="#111" stroke-width="0.8" fill="none"/>
<path clip-path="url(#c22)" d="M499.5 338.5V348.5M498.5 338.5h2M498.5 348.5h2" stroke="#111" stroke-width="0.8" fill="none"/>
<path clip-path="url(#c22)" d="M499.5 338.5V348.5M498.5 338.5h2M498.5 348.5h2" stroke="#111" stroke-width="0.8" fill="none"/>
<path clip-path="url(#c22)" d="M499.5 334.5V344.5M498.5 334.5h2M498.5 344.5h2" stroke="#111" stroke-width="0.8" fill="none"/>
<path clip-path="url(#c22)" d="M499.5 328.5V338.5M498.5 328.5h2M498.5 338.5h2" stroke="#111" stroke-width="0.8" fill="none"/>
<path clip-path="url(#c22)" d="M499.5 320.5V331.5M498.5 320.5h2M498.5 331.5h2" stroke="#111" stroke-width="0.8" fill="none"/>
<path clip-path="url(#c22)" d="M499.5 326.5V337.5M498.5 326.5h2M498.5 337.5h2" stroke="#111" stroke-width="0.8" fill="none"/>
<path clip-path="url(#c22)" d="M499.5 340.5V349.5M498.5 340.5h2M498.5 349.5h2" stroke="#111" stroke-width="0.8" fill="none"/>
<path clip-path="url(#c22)" d="M499.5 343.5V352.5M498.5 343.5h2M498.5 352.5h2" stroke="#111" stroke-width="0.8" fill="none"/>
<g font-family="'Liberation Sans', sans-serif" fill="#000" font-size="18.2" stroke="#fff" stroke-width="0.22">
<text x="195.0" y="38.4" font-size="20.8" text-anchor="middle" letter-spacing="1.1">High</text>
<text x="398.3" y="38.4" font-size="20.8" text-anchor="middle" letter-spacing="0.9">Mid</text>
<text x="600.9" y="38.4" font-size="20.8" text-anchor="middle" letter-spacing="0.2">Low</text>
<text x="87.2" y="60.9" text-anchor="end" letter-spacing="0.3">6.0</text>
<text x="87.2" y="77.0" text-anchor="end" letter-spacing="0.3">5.5</text>
<text x="87.2" y="98.6" text-anchor="end" letter-spacing="0.3">5.0</text>
<text x="87.2" y="120.1" text-anchor="end" letter-spacing="0.3">4.5</text>
<text x="87.2" y="141.7" text-anchor="end" letter-spacing="0.3">4.0</text>
<text x="87.2" y="163.2" text-anchor="end" letter-spacing="0.3">3.5</text>
<text x="87.2" y="178.8" text-anchor="end" letter-spacing="0.3">3.0</text>
<text x="87.2" y="190.0" text-anchor="end" letter-spacing="0.3">4</text>
<text x="87.2" y="213.0" text-anchor="end" letter-spacing="0.3">3</text>
<text x="87.2" y="241.0" text-anchor="end" letter-spacing="0.3">2</text>
<text x="87.2" y="269.1" text-anchor="end" letter-spacing="0.3">1</text>
<text x="87.2" y="297.2" text-anchor="end" letter-spacing="0.3">0</text>
<text x="87.2" y="323.4" text-anchor="end" letter-spacing="0.3">2.5</text>
<text x="87.2" y="341.3" text-anchor="end" letter-spacing="0.3">2.0</text>
<text x="87.2" y="368.2" text-anchor="end" letter-spacing="0.3">1.5</text>
<text x="87.2" y="395.2" text-anchor="end" letter-spacing="0.3">1.0</text>
<text x="87.2" y="422.1" text-anchor="end" letter-spacing="0.3">0.5</text>
<text x="122.5" y="461.9" text-anchor="middle" letter-spacing="0.3">20</text>
<text x="153.6" y="461.9" text-anchor="middle" letter-spacing="0.3">40</text>
<text x="184.8" y="461.9" text-anchor="middle" letter-spacing="0.3">60</text>
<text x="215.9" y="461.9" text-anchor="middle" letter-spacing="0.3">80</text>
<text x="246.1" y="461.9" text-anchor="middle" letter-spacing="-0.2">100</text>
<text x="279.8" y="461.9" text-anchor="middle" letter-spacing="0.3">120</text>
<text x="325.5" y="461.9" text-anchor="middle" letter-spacing="0.3">20</text>
<text x="356.7" y="461.9" text-anchor="middle" letter-spacing="0.3">40</text>
<text x="387.8" y="461.9" text-anchor="middle" letter-spacing="0.3">60</text>
<text x="419.0" y="461.9" text-anchor="middle" letter-spacing="0.3">80</text>
<text x="449.1" y="461.9" text-anchor="middle" letter-spacing="-0.2">100</text>
<text x="482.9" y="461.9" text-anchor="middle" letter-spacing="0.3">120</text>
<text x="528.6" y="461.9" text-anchor="middle" letter-spacing="0.3">20</text>
<text x="559.7" y="461.9" text-anchor="middle" letter-spacing="0.3">40</text>
<text x="590.9" y="461.9" text-anchor="middle" letter-spacing="0.3">60</text>
<text x="622.0" y="461.9" text-anchor="middle" letter-spacing="0.3">80</text>
<text x="652.2" y="461.9" text-anchor="middle" letter-spacing="-0.2">100</text>
<text x="685.9" y="461.9" text-anchor="middle" letter-spacing="0.3">120</text>
<text x="397.8" y="483.9" font-size="17.2" text-anchor="middle" letter-spacing="0.5">Lag</text>
<text transform="translate(45.4 113.3) rotate(-90)" font-size="17.2" text-anchor="middle" letter-spacing="0.9">Log a</text>
<text transform="translate(62 242.5) rotate(-90)" font-size="17.2" text-anchor="middle" letter-spacing="0.5">Log w</text>
<text transform="translate(45.4 372.5) rotate(-90)" font-size="17.2" text-anchor="middle">q</text>
</g>
</svg>
</body></html>
